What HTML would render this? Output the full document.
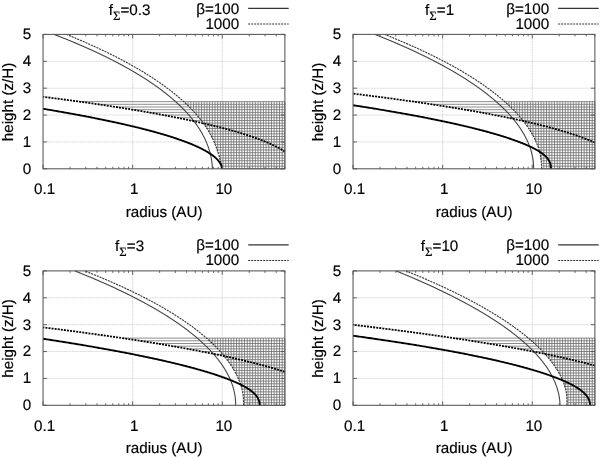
<!DOCTYPE html><html><head><meta charset="utf-8"><title>MRI active zones</title><style>
html,body{margin:0;padding:0;background:#fff}
svg{display:block}
text{font-family:"Liberation Sans",sans-serif;font-size:15.2px;fill:#000;stroke:#000;stroke-width:0.18px;text-rendering:geometricPrecision}
.fr{fill:none;stroke:#555;stroke-width:1.05}
.tk{fill:none;stroke:#555;stroke-width:0.9}
.gr{stroke:#a8a8a8;stroke-width:0.55;stroke-dasharray:0.9 0.7}
.hh{fill:none;stroke:#606060;stroke-width:0.72}
.hv{fill:none;stroke:#606060;stroke-width:0.72}
.ts{fill:none;stroke:#444;stroke-width:1.1}
.td{fill:none;stroke:#333;stroke-width:1.1;stroke-dasharray:2.1 0.9}
.ks{fill:none;stroke:#000;stroke-width:1.85}
.kd{fill:none;stroke:#000;stroke-width:1.8;stroke-dasharray:2 1.1}
.lg1{stroke:#333;stroke-width:1.15}
.lg2{stroke:#333;stroke-width:1.0;stroke-dasharray:2.0 1.0}
</style></head><body>
<svg width="600" height="457" viewBox="0 0 600 457">
<defs><filter id="nf" x="0" y="0" width="600" height="457" filterUnits="userSpaceOnUse"><feOffset dx="0" dy="0"/></filter></defs>
<g filter="url(#nf)">
<g>
<line x1="43.05" x2="284.88" y1="141.93" y2="141.93" class="gr"/>
<line x1="43.05" x2="284.88" y1="115.06" y2="115.06" class="gr"/>
<line x1="43.05" x2="284.88" y1="88.19" y2="88.19" class="gr"/>
<line x1="43.05" x2="284.88" y1="61.32" y2="61.32" class="gr"/>
<line x1="132.65" x2="132.65" y1="34.40" y2="168.80" class="gr"/>
<line x1="222.25" x2="222.25" y1="34.40" y2="168.80" class="gr"/>
<path d="M221.60 168.80 H284.88 M221.45 166.11 H284.88 M221.04 163.43 H284.88 M220.42 160.74 H284.88 M219.68 158.05 H284.88 M218.87 155.37 H284.88 M218.02 152.68 H284.88 M217.14 149.99 H284.88 M216.21 147.30 H284.88 M215.20 144.62 H284.88 M214.10 141.93 H284.88 M212.90 139.24 H284.88 M211.58 136.56 H284.88 M210.16 133.87 H284.88 M208.61 131.18 H284.88 M206.95 128.50 H284.88 M205.17 125.81 H284.88 M202.54 123.12 H284.88 M190.33 120.43 H284.88 M177.27 117.75 H284.88 M163.33 115.06 H284.88 M148.48 112.37 H284.88 M132.70 109.69 H284.88 M115.94 107.00 H284.88 M98.19 104.31 H284.88 M79.40 101.63 H284.88" class="hh"/>
<path d="M284.88 168.80 V101.63 M282.19 168.80 V101.63 M279.50 168.80 V101.63 M276.81 168.80 V101.63 M274.13 168.80 V101.63 M271.44 168.80 V101.63 M268.75 168.80 V101.63 M266.06 168.80 V101.63 M263.37 168.80 V101.63 M260.69 168.80 V101.63 M258.00 168.80 V101.63 M255.31 168.80 V101.63 M252.62 168.80 V101.63 M249.93 168.80 V101.63 M247.25 168.80 V101.63 M244.56 168.80 V101.63 M241.87 168.80 V101.63 M239.18 168.80 V101.63 M236.49 168.80 V101.63 M233.81 168.80 V101.63 M231.12 168.80 V101.63 M228.43 168.80 V101.63 M225.74 168.80 V101.63 M223.05 168.80 V101.63 M220.37 160.53 V101.63 M217.68 151.61 V101.63 M214.99 144.08 V101.63 M212.30 137.99 V101.63 M209.61 132.90 V101.63 M206.93 128.46 V101.63 M204.24 124.46 V101.63 M201.55 120.82 V101.63 M198.86 117.44 V101.63 M196.17 114.27 V101.63 M193.49 111.30 V101.63 M190.80 108.47 V101.63 M188.11 105.78 V101.63 M185.42 103.21 V101.63" class="hv"/>
<path d="M212.34 168.80 L212.34 168.46 L212.33 168.13 L212.33 167.79 L212.32 167.45 L212.31 167.12 L212.30 166.78 L212.28 166.44 L212.26 166.11 L212.24 165.77 L212.22 165.43 L212.20 165.10 L212.17 164.76 L212.14 164.42 L212.11 164.09 L212.08 163.75 L212.04 163.41 L212.01 163.08 L211.97 162.74 L211.92 162.40 L211.88 162.07 L211.84 161.73 L211.79 161.39 L211.74 161.06 L211.69 160.72 L211.64 160.38 L211.58 160.05 L211.53 159.71 L211.47 159.37 L211.41 159.04 L211.35 158.70 L211.28 158.36 L211.22 158.03 L211.15 157.69 L211.09 157.35 L211.02 157.01 L210.95 156.68 L210.87 156.34 L210.80 156.00 L210.72 155.67 L210.65 155.33 L210.57 154.99 L210.49 154.66 L210.40 154.32 L210.32 153.98 L210.24 153.65 L210.15 153.31 L210.06 152.97 L209.97 152.64 L209.88 152.30 L209.79 151.96 L209.70 151.63 L209.60 151.29 L209.50 150.95 L209.40 150.62 L209.30 150.28 L209.20 149.94 L209.10 149.61 L208.99 149.27 L208.89 148.93 L208.78 148.60 L208.67 148.26 L208.56 147.92 L208.44 147.59 L208.33 147.25 L208.21 146.91 L208.09 146.58 L207.97 146.24 L207.85 145.90 L207.73 145.57 L207.60 145.23 L207.47 144.89 L207.35 144.56 L207.22 144.22 L207.08 143.88 L206.95 143.55 L206.81 143.21 L206.68 142.87 L206.54 142.54 L206.40 142.20 L206.25 141.86 L206.11 141.53 L205.96 141.19 L205.81 140.85 L205.66 140.52 L205.51 140.18 L205.36 139.84 L205.20 139.51 L205.05 139.17 L204.89 138.83 L204.73 138.50 L204.56 138.16 L204.40 137.82 L204.23 137.49 L204.06 137.15 L203.89 136.81 L203.72 136.48 L203.55 136.14 L203.37 135.80 L203.19 135.47 L203.02 135.13 L202.83 134.79 L202.65 134.45 L202.47 134.12 L202.28 133.78 L202.09 133.44 L201.90 133.11 L201.71 132.77 L201.51 132.43 L201.32 132.10 L201.12 131.76 L200.92 131.42 L200.72 131.09 L200.51 130.75 L200.31 130.41 L200.10 130.08 L199.89 129.74 L199.68 129.40 L199.47 129.07 L199.25 128.73 L199.04 128.39 L198.82 128.06 L198.60 127.72 L198.38 127.38 L198.15 127.05 L197.93 126.71 L197.70 126.37 L197.47 126.04 L197.24 125.70 L197.00 125.36 L196.77 125.03 L196.53 124.69 L196.29 124.35 L196.05 124.02 L195.81 123.68 L195.56 123.34 L195.31 123.01 L195.06 122.67 L194.81 122.33 L194.56 122.00 L194.31 121.66 L194.05 121.32 L193.79 120.99 L193.53 120.65 L193.27 120.31 L193.00 119.98 L192.74 119.64 L192.47 119.30 L192.20 118.97 L191.93 118.63 L191.65 118.29 L191.37 117.96 L191.10 117.62 L190.82 117.28 L190.53 116.95 L190.25 116.61 L189.96 116.27 L189.68 115.94 L189.39 115.60 L189.10 115.26 L188.80 114.93 L188.51 114.59 L188.21 114.25 L187.91 113.92 L187.61 113.58 L187.30 113.24 L187.00 112.91 L186.69 112.57 L186.38 112.23 L186.07 111.89 L185.75 111.56 L185.44 111.22 L185.12 110.88 L184.80 110.55 L184.48 110.21 L184.16 109.87 L183.83 109.54 L183.50 109.20 L183.17 108.86 L182.84 108.53 L182.51 108.19 L182.17 107.85 L181.83 107.52 L181.49 107.18 L181.15 106.84 L180.81 106.51 L180.46 106.17 L180.11 105.83 L179.76 105.50 L179.41 105.16 L179.06 104.82 L178.70 104.49 L178.34 104.15 L177.98 103.81 L177.62 103.48 L177.26 103.14 L176.89 102.80 L176.52 102.47 L176.15 102.13 L175.78 101.79 L175.40 101.46 L175.03 101.12 L174.65 100.78 L174.27 100.45 L173.88 100.11 L173.50 99.77 L173.11 99.44 L172.72 99.10 L172.33 98.76 L171.93 98.43 L171.54 98.09 L171.14 97.75 L170.74 97.42 L170.34 97.08 L169.93 96.74 L169.53 96.41 L169.12 96.07 L168.71 95.73 L168.30 95.40 L167.88 95.06 L167.46 94.72 L167.04 94.39 L166.62 94.05 L166.20 93.71 L165.77 93.38 L165.34 93.04 L164.91 92.70 L164.48 92.37 L164.05 92.03 L163.61 91.69 L163.17 91.36 L162.73 91.02 L162.29 90.68 L161.84 90.34 L161.39 90.01 L160.94 89.67 L160.49 89.33 L160.04 89.00 L159.58 88.66 L159.12 88.32 L158.66 87.99 L158.20 87.65 L157.73 87.31 L157.27 86.98 L156.80 86.64 L156.32 86.30 L155.85 85.97 L155.37 85.63 L154.90 85.29 L154.41 84.96 L153.93 84.62 L153.45 84.28 L152.96 83.95 L152.47 83.61 L151.98 83.27 L151.48 82.94 L150.98 82.60 L150.48 82.26 L149.98 81.93 L149.48 81.59 L148.97 81.25 L148.46 80.92 L147.95 80.58 L147.44 80.24 L146.93 79.91 L146.41 79.57 L145.89 79.23 L145.37 78.90 L144.84 78.56 L144.31 78.22 L143.79 77.89 L143.25 77.55 L142.72 77.21 L142.18 76.88 L141.65 76.54 L141.10 76.20 L140.56 75.87 L140.02 75.53 L139.47 75.19 L138.92 74.86 L138.36 74.52 L137.81 74.18 L137.25 73.85 L136.69 73.51 L136.13 73.17 L135.56 72.84 L135.00 72.50 L134.43 72.16 L133.85 71.83 L133.28 71.49 L132.70 71.15 L132.12 70.82 L131.54 70.48 L130.96 70.14 L130.37 69.81 L129.78 69.47 L129.19 69.13 L128.60 68.80 L128.00 68.46 L127.40 68.12 L126.80 67.78 L126.20 67.45 L125.59 67.11 L124.98 66.77 L124.37 66.44 L123.76 66.10 L123.14 65.76 L122.52 65.43 L121.90 65.09 L121.28 64.75 L120.65 64.42 L120.02 64.08 L119.39 63.74 L118.76 63.41 L118.12 63.07 L117.48 62.73 L116.84 62.40 L116.20 62.06 L115.55 61.72 L114.90 61.39 L114.25 61.05 L113.59 60.71 L112.94 60.38 L112.28 60.04 L111.62 59.70 L110.95 59.37 L110.28 59.03 L109.61 58.69 L108.94 58.36 L108.27 58.02 L107.59 57.68 L106.91 57.35 L106.23 57.01 L105.54 56.67 L104.85 56.34 L104.16 56.00 L103.47 55.66 L102.77 55.33 L102.07 54.99 L101.37 54.65 L100.67 54.32 L99.96 53.98 L99.25 53.64 L98.54 53.31 L97.82 52.97 L97.11 52.63 L96.39 52.30 L95.66 51.96 L94.94 51.62 L94.21 51.29 L93.48 50.95 L92.75 50.61 L92.01 50.28 L91.27 49.94 L90.53 49.60 L89.78 49.27 L89.04 48.93 L88.29 48.59 L87.53 48.26 L86.78 47.92 L86.02 47.58 L85.26 47.25 L84.49 46.91 L83.73 46.57 L82.96 46.24 L82.18 45.90 L81.41 45.56 L80.63 45.22 L79.85 44.89 L79.07 44.55 L78.28 44.21 L77.49 43.88 L76.70 43.54 L75.90 43.20 L75.10 42.87 L74.30 42.53 L73.50 42.19 L72.69 41.86 L71.88 41.52 L71.07 41.18 L70.26 40.85 L69.44 40.51 L68.62 40.17 L67.79 39.84 L66.97 39.50 L66.14 39.16 L65.30 38.83 L64.47 38.49 L63.63 38.15 L62.79 37.82 L61.95 37.48 L61.10 37.14 L60.25 36.81 L59.39 36.47 L58.54 36.13 L57.68 35.80 L56.82 35.46 L55.95 35.12 L55.08 34.79 L54.21 34.45" class="ts"/>
<path d="M221.60 168.80 L221.59 168.46 L221.59 168.13 L221.57 167.79 L221.56 167.45 L221.54 167.12 L221.51 166.78 L221.48 166.44 L221.45 166.11 L221.41 165.77 L221.37 165.43 L221.32 165.10 L221.27 164.76 L221.22 164.42 L221.16 164.09 L221.10 163.75 L221.03 163.41 L220.97 163.08 L220.89 162.74 L220.82 162.40 L220.74 162.07 L220.67 161.73 L220.58 161.39 L220.50 161.06 L220.41 160.72 L220.33 160.38 L220.24 160.05 L220.15 159.71 L220.05 159.37 L219.96 159.04 L219.86 158.70 L219.77 158.36 L219.67 158.03 L219.57 157.69 L219.47 157.35 L219.37 157.01 L219.27 156.68 L219.17 156.34 L219.07 156.00 L218.96 155.67 L218.86 155.33 L218.75 154.99 L218.65 154.66 L218.54 154.32 L218.44 153.98 L218.33 153.65 L218.23 153.31 L218.12 152.97 L218.01 152.64 L217.90 152.30 L217.79 151.96 L217.68 151.63 L217.57 151.29 L217.46 150.95 L217.35 150.62 L217.24 150.28 L217.13 149.94 L217.01 149.61 L216.90 149.27 L216.78 148.93 L216.66 148.60 L216.55 148.26 L216.43 147.92 L216.31 147.59 L216.19 147.25 L216.07 146.91 L215.94 146.58 L215.82 146.24 L215.69 145.90 L215.57 145.57 L215.44 145.23 L215.31 144.89 L215.18 144.56 L215.04 144.22 L214.91 143.88 L214.77 143.55 L214.64 143.21 L214.50 142.87 L214.36 142.54 L214.22 142.20 L214.07 141.86 L213.93 141.53 L213.78 141.19 L213.63 140.85 L213.48 140.52 L213.33 140.18 L213.18 139.84 L213.02 139.51 L212.86 139.17 L212.70 138.83 L212.54 138.50 L212.38 138.16 L212.22 137.82 L212.05 137.49 L211.88 137.15 L211.71 136.81 L211.54 136.48 L211.37 136.14 L211.20 135.80 L211.02 135.47 L210.84 135.13 L210.66 134.79 L210.48 134.45 L210.29 134.12 L210.11 133.78 L209.92 133.44 L209.73 133.11 L209.54 132.77 L209.35 132.43 L209.15 132.10 L208.96 131.76 L208.76 131.42 L208.56 131.09 L208.35 130.75 L208.15 130.41 L207.94 130.08 L207.74 129.74 L207.53 129.40 L207.32 129.07 L207.10 128.73 L206.89 128.39 L206.67 128.06 L206.45 127.72 L206.23 127.38 L206.01 127.05 L205.78 126.71 L205.56 126.37 L205.33 126.04 L205.10 125.70 L204.87 125.36 L204.63 125.03 L204.40 124.69 L204.16 124.35 L203.92 124.02 L203.68 123.68 L203.44 123.34 L203.19 123.01 L202.94 122.67 L202.69 122.33 L202.44 122.00 L202.19 121.66 L201.94 121.32 L201.68 120.99 L201.42 120.65 L201.16 120.31 L200.90 119.98 L200.64 119.64 L200.37 119.30 L200.10 118.97 L199.83 118.63 L199.56 118.29 L199.29 117.96 L199.01 117.62 L198.74 117.28 L198.46 116.95 L198.18 116.61 L197.89 116.27 L197.61 115.94 L197.32 115.60 L197.03 115.26 L196.74 114.93 L196.45 114.59 L196.15 114.25 L195.86 113.92 L195.56 113.58 L195.26 113.24 L194.96 112.91 L194.65 112.57 L194.35 112.23 L194.04 111.89 L193.73 111.56 L193.42 111.22 L193.10 110.88 L192.79 110.55 L192.47 110.21 L192.15 109.87 L191.83 109.54 L191.51 109.20 L191.18 108.86 L190.85 108.53 L190.52 108.19 L190.19 107.85 L189.86 107.52 L189.52 107.18 L189.19 106.84 L188.85 106.51 L188.51 106.17 L188.16 105.83 L187.82 105.50 L187.47 105.16 L187.12 104.82 L186.77 104.49 L186.42 104.15 L186.06 103.81 L185.71 103.48 L185.35 103.14 L184.99 102.80 L184.62 102.47 L184.26 102.13 L183.89 101.79 L183.52 101.46 L183.15 101.12 L182.78 100.78 L182.40 100.45 L182.03 100.11 L181.65 99.77 L181.27 99.44 L180.88 99.10 L180.50 98.76 L180.11 98.43 L179.72 98.09 L179.33 97.75 L178.94 97.42 L178.54 97.08 L178.14 96.74 L177.75 96.41 L177.34 96.07 L176.94 95.73 L176.54 95.40 L176.13 95.06 L175.72 94.72 L175.31 94.39 L174.89 94.05 L174.48 93.71 L174.06 93.38 L173.64 93.04 L173.22 92.70 L172.79 92.37 L172.37 92.03 L171.94 91.69 L171.51 91.36 L171.08 91.02 L170.64 90.68 L170.21 90.34 L169.77 90.01 L169.33 89.67 L168.89 89.33 L168.44 89.00 L167.99 88.66 L167.55 88.32 L167.09 87.99 L166.64 87.65 L166.19 87.31 L165.73 86.98 L165.27 86.64 L164.81 86.30 L164.34 85.97 L163.88 85.63 L163.41 85.29 L162.94 84.96 L162.47 84.62 L161.99 84.28 L161.52 83.95 L161.04 83.61 L160.56 83.27 L160.08 82.94 L159.59 82.60 L159.10 82.26 L158.61 81.93 L158.12 81.59 L157.63 81.25 L157.13 80.92 L156.64 80.58 L156.14 80.24 L155.63 79.91 L155.13 79.57 L154.62 79.23 L154.11 78.90 L153.60 78.56 L153.09 78.22 L152.57 77.89 L152.06 77.55 L151.54 77.21 L151.01 76.88 L150.49 76.54 L149.96 76.20 L149.44 75.87 L148.90 75.53 L148.37 75.19 L147.84 74.86 L147.30 74.52 L146.76 74.18 L146.22 73.85 L145.67 73.51 L145.13 73.17 L144.58 72.84 L144.03 72.50 L143.47 72.16 L142.92 71.83 L142.36 71.49 L141.80 71.15 L141.24 70.82 L140.68 70.48 L140.11 70.14 L139.54 69.81 L138.97 69.47 L138.40 69.13 L137.82 68.80 L137.24 68.46 L136.66 68.12 L136.08 67.78 L135.49 67.45 L134.91 67.11 L134.32 66.77 L133.73 66.44 L133.13 66.10 L132.54 65.76 L131.94 65.43 L131.34 65.09 L130.73 64.75 L130.13 64.42 L129.52 64.08 L128.91 63.74 L128.30 63.41 L127.68 63.07 L127.07 62.73 L126.45 62.40 L125.82 62.06 L125.20 61.72 L124.57 61.39 L123.94 61.05 L123.31 60.71 L122.68 60.38 L122.04 60.04 L121.40 59.70 L120.76 59.37 L120.12 59.03 L119.48 58.69 L118.83 58.36 L118.18 58.02 L117.52 57.68 L116.87 57.35 L116.21 57.01 L115.55 56.67 L114.89 56.34 L114.22 56.00 L113.56 55.66 L112.89 55.33 L112.22 54.99 L111.54 54.65 L110.86 54.32 L110.19 53.98 L109.50 53.64 L108.82 53.31 L108.13 52.97 L107.44 52.63 L106.75 52.30 L106.06 51.96 L105.36 51.62 L104.66 51.29 L103.96 50.95 L103.26 50.61 L102.55 50.28 L101.84 49.94 L101.13 49.60 L100.42 49.27 L99.70 48.93 L98.98 48.59 L98.26 48.26 L97.54 47.92 L96.81 47.58 L96.08 47.25 L95.35 46.91 L94.62 46.57 L93.88 46.24 L93.14 45.90 L92.40 45.56 L91.66 45.22 L90.91 44.89 L90.16 44.55 L89.41 44.21 L88.65 43.88 L87.90 43.54 L87.14 43.20 L86.38 42.87 L85.61 42.53 L84.84 42.19 L84.07 41.86 L83.30 41.52 L82.53 41.18 L81.75 40.85 L80.97 40.51 L80.19 40.17 L79.40 39.84 L78.61 39.50 L77.82 39.16 L77.03 38.83 L76.23 38.49 L75.44 38.15 L74.63 37.82 L73.83 37.48 L73.02 37.14 L72.22 36.81 L71.40 36.47 L70.59 36.13 L69.77 35.80 L68.95 35.46 L68.13 35.12 L67.31 34.79 L66.48 34.45" class="td"/>
<path d="M221.78 168.80 L221.77 168.46 L221.76 168.13 L221.73 167.79 L221.68 167.45 L221.63 167.12 L221.56 166.78 L221.49 166.44 L221.40 166.11 L221.30 165.77 L221.18 165.43 L221.06 165.10 L220.92 164.76 L220.77 164.42 L220.61 164.09 L220.44 163.75 L220.26 163.41 L220.06 163.08 L219.86 162.74 L219.64 162.40 L219.41 162.07 L219.17 161.73 L218.92 161.39 L218.66 161.06 L218.38 160.72 L218.10 160.38 L217.80 160.05 L217.50 159.71 L217.18 159.37 L216.85 159.04 L216.51 158.70 L216.16 158.36 L215.79 158.03 L215.42 157.69 L215.04 157.35 L214.64 157.01 L214.24 156.68 L213.82 156.34 L213.39 156.00 L212.96 155.67 L212.51 155.33 L212.05 154.99 L211.58 154.66 L211.10 154.32 L210.61 153.98 L210.10 153.65 L209.59 153.31 L209.07 152.97 L208.53 152.64 L207.99 152.30 L207.43 151.96 L206.87 151.63 L206.29 151.29 L205.70 150.95 L205.10 150.62 L204.49 150.28 L203.87 149.94 L203.24 149.61 L202.60 149.27 L201.94 148.93 L201.28 148.60 L200.60 148.26 L199.92 147.92 L199.22 147.59 L198.51 147.25 L197.79 146.91 L197.06 146.58 L196.32 146.24 L195.57 145.90 L194.81 145.57 L194.03 145.23 L193.25 144.89 L192.45 144.56 L191.64 144.22 L190.82 143.88 L189.99 143.55 L189.15 143.21 L188.30 142.87 L187.44 142.54 L186.56 142.20 L185.68 141.86 L184.78 141.53 L183.87 141.19 L182.95 140.85 L182.02 140.52 L181.08 140.18 L180.13 139.84 L179.17 139.51 L178.19 139.17 L177.20 138.83 L176.21 138.50 L175.20 138.16 L174.18 137.82 L173.15 137.49 L172.10 137.15 L171.05 136.81 L169.98 136.48 L168.91 136.14 L167.82 135.80 L166.72 135.47 L165.61 135.13 L164.49 134.79 L163.36 134.45 L162.21 134.12 L161.06 133.78 L159.89 133.44 L158.71 133.11 L157.52 132.77 L156.32 132.43 L155.11 132.10 L153.88 131.76 L152.65 131.42 L151.40 131.09 L150.14 130.75 L148.87 130.41 L147.59 130.08 L146.30 129.74 L145.00 129.40 L143.68 129.07 L142.36 128.73 L141.02 128.39 L139.67 128.06 L138.31 127.72 L136.94 127.38 L135.55 127.05 L134.16 126.71 L132.75 126.37 L131.33 126.04 L129.91 125.70 L128.46 125.36 L127.01 125.03 L125.55 124.69 L124.07 124.35 L122.59 124.02 L121.09 123.68 L119.58 123.34 L118.06 123.01 L116.53 122.67 L114.98 122.33 L113.43 122.00 L111.86 121.66 L110.28 121.32 L108.69 120.99 L107.09 120.65 L105.47 120.31 L103.85 119.98 L102.21 119.64 L100.56 119.30 L98.90 118.97 L97.23 118.63 L95.55 118.29 L93.85 117.96 L92.15 117.62 L90.43 117.28 L88.70 116.95 L86.96 116.61 L85.21 116.27 L83.44 115.94 L81.67 115.60 L79.88 115.26 L78.08 114.93 L76.27 114.59 L74.45 114.25 L72.61 113.92 L70.77 113.58 L68.91 113.24 L67.04 112.91 L65.16 112.57 L63.26 112.23 L61.36 111.89 L59.44 111.56 L57.51 111.22 L55.57 110.88 L53.62 110.55 L51.66 110.21 L49.68 109.87 L47.70 109.54 L45.70 109.20 L43.69 108.86 L43.05 108.76" class="ks"/>
<path d="M284.88 151.59 L284.42 151.29 L283.90 150.95 L283.37 150.62 L282.82 150.28 L282.27 149.94 L281.70 149.61 L281.13 149.27 L280.54 148.93 L279.94 148.60 L279.34 148.26 L278.72 147.92 L278.09 147.59 L277.45 147.25 L276.80 146.91 L276.14 146.58 L275.47 146.24 L274.79 145.90 L274.10 145.57 L273.40 145.23 L272.69 144.89 L271.97 144.56 L271.23 144.22 L270.49 143.88 L269.73 143.55 L268.97 143.21 L268.19 142.87 L267.40 142.54 L266.60 142.20 L265.79 141.86 L264.97 141.53 L264.14 141.19 L263.30 140.85 L262.44 140.52 L261.58 140.18 L260.70 139.84 L259.82 139.51 L258.92 139.17 L258.01 138.83 L257.09 138.50 L256.16 138.16 L255.21 137.82 L254.26 137.49 L253.29 137.15 L252.32 136.81 L251.33 136.48 L250.33 136.14 L249.32 135.80 L248.30 135.47 L247.26 135.13 L246.22 134.79 L245.16 134.45 L244.09 134.12 L243.01 133.78 L241.92 133.44 L240.81 133.11 L239.70 132.77 L238.57 132.43 L237.43 132.10 L236.28 131.76 L235.11 131.42 L233.94 131.09 L232.75 130.75 L231.55 130.41 L230.34 130.08 L229.12 129.74 L227.88 129.40 L226.63 129.07 L225.37 128.73 L224.10 128.39 L222.82 128.06 L221.52 127.72 L220.21 127.38 L218.89 127.05 L217.55 126.71 L216.21 126.37 L214.85 126.04 L213.47 125.70 L212.09 125.36 L210.69 125.03 L209.28 124.69 L207.86 124.35 L206.42 124.02 L204.97 123.68 L203.51 123.34 L202.04 123.01 L200.55 122.67 L199.05 122.33 L197.53 122.00 L196.01 121.66 L194.46 121.32 L192.91 120.99 L191.34 120.65 L189.76 120.31 L188.17 119.98 L186.56 119.64 L184.94 119.30 L183.31 118.97 L181.66 118.63 L180.00 118.29 L178.32 117.96 L176.63 117.62 L174.93 117.28 L173.21 116.95 L171.48 116.61 L169.73 116.27 L167.97 115.94 L166.20 115.60 L164.41 115.26 L162.61 114.93 L160.79 114.59 L158.96 114.25 L157.12 113.92 L155.26 113.58 L153.39 113.24 L151.50 112.91 L149.59 112.57 L147.68 112.23 L145.74 111.89 L143.80 111.56 L141.83 111.22 L139.86 110.88 L137.87 110.55 L135.86 110.21 L133.84 109.87 L131.80 109.54 L129.75 109.20 L127.68 108.86 L125.60 108.53 L123.50 108.19 L121.38 107.85 L119.25 107.52 L117.11 107.18 L114.95 106.84 L112.77 106.51 L110.58 106.17 L108.37 105.83 L106.15 105.50 L103.91 105.16 L101.65 104.82 L99.38 104.49 L97.09 104.15 L94.79 103.81 L92.46 103.48 L90.13 103.14 L87.77 102.80 L85.40 102.47 L83.02 102.13 L80.61 101.79 L78.19 101.46 L75.76 101.12 L73.30 100.78 L70.83 100.45 L68.34 100.11 L65.84 99.77 L63.32 99.44 L60.78 99.10 L58.22 98.76 L55.65 98.43 L53.05 98.09 L50.45 97.75 L47.82 97.42 L45.17 97.08 L43.05 96.81" class="kd"/>
<rect x="43.05" y="34.40" width="241.83" height="134.40" class="fr"/>
<path d="M43.05 168.80 h4.00 M284.88 168.80 h-4.00 M43.05 141.93 h4.00 M284.88 141.93 h-4.00 M43.05 115.06 h4.00 M284.88 115.06 h-4.00 M43.05 88.19 h4.00 M284.88 88.19 h-4.00 M43.05 61.32 h4.00 M284.88 61.32 h-4.00 M43.05 34.45 h4.00 M284.88 34.45 h-4.00 M43.05 168.80 v-4.00 M43.05 34.40 v4.00 M70.02 168.80 v-2.00 M70.02 34.40 v2.00 M85.80 168.80 v-2.00 M85.80 34.40 v2.00 M96.99 168.80 v-2.00 M96.99 34.40 v2.00 M105.68 168.80 v-2.00 M105.68 34.40 v2.00 M112.77 168.80 v-2.00 M112.77 34.40 v2.00 M118.77 168.80 v-2.00 M118.77 34.40 v2.00 M123.97 168.80 v-2.00 M123.97 34.40 v2.00 M128.55 168.80 v-2.00 M128.55 34.40 v2.00 M132.65 168.80 v-4.00 M132.65 34.40 v4.00 M159.62 168.80 v-2.00 M159.62 34.40 v2.00 M175.40 168.80 v-2.00 M175.40 34.40 v2.00 M186.59 168.80 v-2.00 M186.59 34.40 v2.00 M195.28 168.80 v-2.00 M195.28 34.40 v2.00 M202.37 168.80 v-2.00 M202.37 34.40 v2.00 M208.37 168.80 v-2.00 M208.37 34.40 v2.00 M213.57 168.80 v-2.00 M213.57 34.40 v2.00 M218.15 168.80 v-2.00 M218.15 34.40 v2.00 M222.25 168.80 v-4.00 M222.25 34.40 v4.00 M249.22 168.80 v-2.00 M249.22 34.40 v2.00 M265.00 168.80 v-2.00 M265.00 34.40 v2.00 M276.19 168.80 v-2.00 M276.19 34.40 v2.00 M284.88 168.80 v-2.00 M284.88 34.40 v2.00" class="tk"/>
<text x="31.30" y="173.70" text-anchor="end">0</text>
<text x="31.30" y="146.83" text-anchor="end">1</text>
<text x="31.30" y="119.96" text-anchor="end">2</text>
<text x="31.30" y="93.09" text-anchor="end">3</text>
<text x="31.30" y="66.22" text-anchor="end">4</text>
<text x="31.30" y="39.35" text-anchor="end">5</text>
<text x="44.65" y="194.00" text-anchor="middle">0.1</text>
<text x="134.25" y="194.00" text-anchor="middle">1</text>
<text x="223.85" y="194.00" text-anchor="middle">10</text>
<text x="164.10" y="216.70" text-anchor="middle">radius (AU)</text>
<text transform="translate(13.40,101.95) rotate(-90)" text-anchor="middle">height (z/H)</text>
<text x="129.60" y="14.80" text-anchor="middle">f<tspan dy="4.7" font-size="12.8" font-family="Liberation Serif,serif">Σ</tspan><tspan dy="-4.7">=0.3</tspan></text>
<text x="239.20" y="13.60" text-anchor="end">β=100</text>
<text x="239.20" y="28.60" text-anchor="end">1000</text>
<line x1="248.20" x2="288.70" y1="8.30" y2="8.30" class="lg1"/>
<line x1="248.20" x2="288.70" y1="24.00" y2="24.00" class="lg2"/>
</g>
<g>
<line x1="353.05" x2="594.88" y1="141.93" y2="141.93" class="gr"/>
<line x1="353.05" x2="594.88" y1="115.06" y2="115.06" class="gr"/>
<line x1="353.05" x2="594.88" y1="88.19" y2="88.19" class="gr"/>
<line x1="353.05" x2="594.88" y1="61.32" y2="61.32" class="gr"/>
<line x1="442.65" x2="442.65" y1="34.40" y2="168.80" class="gr"/>
<line x1="532.25" x2="532.25" y1="34.40" y2="168.80" class="gr"/>
<path d="M541.56 168.80 H594.88 M541.52 166.11 H594.88 M541.40 163.43 H594.88 M541.17 160.74 H594.88 M540.84 158.05 H594.88 M540.38 155.37 H594.88 M539.78 152.68 H594.88 M539.05 149.99 H594.88 M538.19 147.30 H594.88 M537.20 144.62 H594.88 M536.09 141.93 H594.88 M534.85 139.24 H594.88 M533.50 136.56 H594.88 M532.03 133.87 H594.88 M530.43 131.18 H594.88 M528.72 128.50 H594.88 M526.88 125.81 H594.88 M524.92 123.12 H594.88 M520.73 120.43 H594.88 M508.15 117.75 H594.88 M494.70 115.06 H594.88 M480.36 112.37 H594.88 M465.09 109.69 H594.88 M448.88 107.00 H594.88 M431.67 104.31 H594.88 M413.45 101.63 H594.88" class="hh"/>
<path d="M594.88 168.80 V101.63 M592.19 168.80 V101.63 M589.50 168.80 V101.63 M586.81 168.80 V101.63 M584.13 168.80 V101.63 M581.44 168.80 V101.63 M578.75 168.80 V101.63 M576.06 168.80 V101.63 M573.37 168.80 V101.63 M570.69 168.80 V101.63 M568.00 168.80 V101.63 M565.31 168.80 V101.63 M562.62 168.80 V101.63 M559.93 168.80 V101.63 M557.25 168.80 V101.63 M554.56 168.80 V101.63 M551.87 168.80 V101.63 M549.18 168.80 V101.63 M546.49 168.80 V101.63 M543.81 168.80 V101.63 M541.12 160.22 V101.63 M538.43 148.02 V101.63 M535.74 141.15 V101.63 M533.05 135.72 V101.63 M530.37 131.08 V101.63 M527.68 126.95 V101.63 M524.99 123.22 V101.63 M522.30 119.77 V101.63 M519.61 116.56 V101.63 M516.93 113.54 V101.63 M514.24 110.69 V101.63 M511.55 107.98 V101.63 M508.86 105.39 V101.63 M506.17 102.91 V101.63" class="hv"/>
<path d="M533.61 168.80 L533.60 168.46 L533.60 168.13 L533.60 167.79 L533.59 167.45 L533.58 167.12 L533.58 166.78 L533.57 166.44 L533.55 166.11 L533.54 165.77 L533.52 165.43 L533.51 165.10 L533.49 164.76 L533.47 164.42 L533.44 164.09 L533.42 163.75 L533.39 163.41 L533.37 163.08 L533.34 162.74 L533.31 162.40 L533.27 162.07 L533.24 161.73 L533.20 161.39 L533.16 161.06 L533.12 160.72 L533.08 160.38 L533.04 160.05 L532.99 159.71 L532.94 159.37 L532.89 159.04 L532.84 158.70 L532.79 158.36 L532.73 158.03 L532.68 157.69 L532.62 157.35 L532.56 157.01 L532.49 156.68 L532.43 156.34 L532.36 156.00 L532.29 155.67 L532.22 155.33 L532.15 154.99 L532.07 154.66 L532.00 154.32 L531.92 153.98 L531.84 153.65 L531.76 153.31 L531.67 152.97 L531.59 152.64 L531.50 152.30 L531.41 151.96 L531.31 151.63 L531.22 151.29 L531.12 150.95 L531.03 150.62 L530.93 150.28 L530.82 149.94 L530.72 149.61 L530.61 149.27 L530.51 148.93 L530.40 148.60 L530.28 148.26 L530.17 147.92 L530.05 147.59 L529.94 147.25 L529.82 146.91 L529.70 146.58 L529.57 146.24 L529.45 145.90 L529.32 145.57 L529.19 145.23 L529.06 144.89 L528.93 144.56 L528.79 144.22 L528.66 143.88 L528.52 143.55 L528.38 143.21 L528.24 142.87 L528.09 142.54 L527.95 142.20 L527.80 141.86 L527.65 141.53 L527.50 141.19 L527.34 140.85 L527.19 140.52 L527.03 140.18 L526.87 139.84 L526.71 139.51 L526.54 139.17 L526.38 138.83 L526.21 138.50 L526.04 138.16 L525.87 137.82 L525.70 137.49 L525.53 137.15 L525.35 136.81 L525.17 136.48 L524.99 136.14 L524.81 135.80 L524.62 135.47 L524.44 135.13 L524.25 134.79 L524.06 134.45 L523.87 134.12 L523.67 133.78 L523.48 133.44 L523.28 133.11 L523.08 132.77 L522.88 132.43 L522.68 132.10 L522.47 131.76 L522.27 131.42 L522.06 131.09 L521.85 130.75 L521.63 130.41 L521.42 130.08 L521.20 129.74 L520.98 129.40 L520.76 129.07 L520.54 128.73 L520.31 128.39 L520.09 128.06 L519.86 127.72 L519.63 127.38 L519.40 127.05 L519.16 126.71 L518.93 126.37 L518.69 126.04 L518.45 125.70 L518.21 125.36 L517.96 125.03 L517.72 124.69 L517.47 124.35 L517.22 124.02 L516.97 123.68 L516.72 123.34 L516.46 123.01 L516.20 122.67 L515.95 122.33 L515.68 122.00 L515.42 121.66 L515.16 121.32 L514.89 120.99 L514.62 120.65 L514.35 120.31 L514.08 119.98 L513.80 119.64 L513.52 119.30 L513.24 118.97 L512.96 118.63 L512.68 118.29 L512.40 117.96 L512.11 117.62 L511.82 117.28 L511.53 116.95 L511.24 116.61 L510.94 116.27 L510.65 115.94 L510.35 115.60 L510.05 115.26 L509.74 114.93 L509.44 114.59 L509.13 114.25 L508.82 113.92 L508.51 113.58 L508.20 113.24 L507.89 112.91 L507.57 112.57 L507.25 112.23 L506.93 111.89 L506.61 111.56 L506.28 111.22 L505.96 110.88 L505.63 110.55 L505.30 110.21 L504.96 109.87 L504.63 109.54 L504.29 109.20 L503.95 108.86 L503.61 108.53 L503.27 108.19 L502.93 107.85 L502.58 107.52 L502.23 107.18 L501.88 106.84 L501.53 106.51 L501.17 106.17 L500.82 105.83 L500.46 105.50 L500.10 105.16 L499.73 104.82 L499.37 104.49 L499.00 104.15 L498.63 103.81 L498.26 103.48 L497.89 103.14 L497.51 102.80 L497.13 102.47 L496.75 102.13 L496.37 101.79 L495.99 101.46 L495.60 101.12 L495.22 100.78 L494.83 100.45 L494.43 100.11 L494.04 99.77 L493.64 99.44 L493.25 99.10 L492.85 98.76 L492.44 98.43 L492.04 98.09 L491.63 97.75 L491.22 97.42 L490.81 97.08 L490.40 96.74 L489.99 96.41 L489.57 96.07 L489.15 95.73 L488.73 95.40 L488.31 95.06 L487.88 94.72 L487.45 94.39 L487.02 94.05 L486.59 93.71 L486.16 93.38 L485.72 93.04 L485.28 92.70 L484.84 92.37 L484.40 92.03 L483.96 91.69 L483.51 91.36 L483.06 91.02 L482.61 90.68 L482.16 90.34 L481.70 90.01 L481.25 89.67 L480.79 89.33 L480.33 89.00 L479.86 88.66 L479.40 88.32 L478.93 87.99 L478.46 87.65 L477.99 87.31 L477.51 86.98 L477.04 86.64 L476.56 86.30 L476.08 85.97 L475.59 85.63 L475.11 85.29 L474.62 84.96 L474.13 84.62 L473.64 84.28 L473.15 83.95 L472.65 83.61 L472.15 83.27 L471.65 82.94 L471.15 82.60 L470.64 82.26 L470.14 81.93 L469.63 81.59 L469.11 81.25 L468.60 80.92 L468.08 80.58 L467.57 80.24 L467.05 79.91 L466.52 79.57 L466.00 79.23 L465.47 78.90 L464.94 78.56 L464.41 78.22 L463.88 77.89 L463.34 77.55 L462.80 77.21 L462.26 76.88 L461.72 76.54 L461.17 76.20 L460.63 75.87 L460.08 75.53 L459.53 75.19 L458.97 74.86 L458.41 74.52 L457.86 74.18 L457.30 73.85 L456.73 73.51 L456.17 73.17 L455.60 72.84 L455.03 72.50 L454.46 72.16 L453.88 71.83 L453.31 71.49 L452.73 71.15 L452.15 70.82 L451.56 70.48 L450.98 70.14 L450.39 69.81 L449.80 69.47 L449.20 69.13 L448.61 68.80 L448.01 68.46 L447.41 68.12 L446.81 67.78 L446.20 67.45 L445.60 67.11 L444.99 66.77 L444.38 66.44 L443.76 66.10 L443.15 65.76 L442.53 65.43 L441.91 65.09 L441.28 64.75 L440.66 64.42 L440.03 64.08 L439.40 63.74 L438.77 63.41 L438.13 63.07 L437.49 62.73 L436.85 62.40 L436.21 62.06 L435.57 61.72 L434.92 61.39 L434.27 61.05 L433.62 60.71 L432.96 60.38 L432.31 60.04 L431.65 59.70 L430.99 59.37 L430.32 59.03 L429.66 58.69 L428.99 58.36 L428.32 58.02 L427.64 57.68 L426.97 57.35 L426.29 57.01 L425.61 56.67 L424.93 56.34 L424.24 56.00 L423.55 55.66 L422.86 55.33 L422.17 54.99 L421.47 54.65 L420.77 54.32 L420.07 53.98 L419.37 53.64 L418.67 53.31 L417.96 52.97 L417.25 52.63 L416.53 52.30 L415.82 51.96 L415.10 51.62 L414.38 51.29 L413.66 50.95 L412.93 50.61 L412.20 50.28 L411.47 49.94 L410.74 49.60 L410.01 49.27 L409.27 48.93 L408.53 48.59 L407.78 48.26 L407.04 47.92 L406.29 47.58 L405.54 47.25 L404.79 46.91 L404.03 46.57 L403.27 46.24 L402.51 45.90 L401.75 45.56 L400.98 45.22 L400.22 44.89 L399.44 44.55 L398.67 44.21 L397.90 43.88 L397.12 43.54 L396.34 43.20 L395.55 42.87 L394.76 42.53 L393.98 42.19 L393.18 41.86 L392.39 41.52 L391.59 41.18 L390.79 40.85 L389.99 40.51 L389.19 40.17 L388.38 39.84 L387.57 39.50 L386.76 39.16 L385.94 38.83 L385.12 38.49 L384.30 38.15 L383.48 37.82 L382.65 37.48 L381.83 37.14 L380.99 36.81 L380.16 36.47 L379.32 36.13 L378.48 35.80 L377.64 35.46 L376.80 35.12 L375.95 34.79 L375.10 34.45" class="ts"/>
<path d="M541.56 168.80 L541.56 168.46 L541.56 168.13 L541.55 167.79 L541.55 167.45 L541.54 167.12 L541.54 166.78 L541.53 166.44 L541.52 166.11 L541.51 165.77 L541.50 165.43 L541.48 165.10 L541.47 164.76 L541.45 164.42 L541.43 164.09 L541.41 163.75 L541.39 163.41 L541.37 163.08 L541.35 162.74 L541.32 162.40 L541.30 162.07 L541.27 161.73 L541.24 161.39 L541.21 161.06 L541.17 160.72 L541.14 160.38 L541.10 160.05 L541.06 159.71 L541.02 159.37 L540.98 159.04 L540.93 158.70 L540.88 158.36 L540.83 158.03 L540.78 157.69 L540.73 157.35 L540.68 157.01 L540.62 156.68 L540.56 156.34 L540.50 156.00 L540.43 155.67 L540.37 155.33 L540.30 154.99 L540.23 154.66 L540.16 154.32 L540.09 153.98 L540.01 153.65 L539.93 153.31 L539.85 152.97 L539.77 152.64 L539.68 152.30 L539.60 151.96 L539.51 151.63 L539.42 151.29 L539.33 150.95 L539.23 150.62 L539.13 150.28 L539.03 149.94 L538.93 149.61 L538.83 149.27 L538.73 148.93 L538.62 148.60 L538.51 148.26 L538.40 147.92 L538.28 147.59 L538.17 147.25 L538.05 146.91 L537.93 146.58 L537.81 146.24 L537.69 145.90 L537.56 145.57 L537.44 145.23 L537.31 144.89 L537.18 144.56 L537.04 144.22 L536.91 143.88 L536.77 143.55 L536.63 143.21 L536.49 142.87 L536.35 142.54 L536.20 142.20 L536.06 141.86 L535.91 141.53 L535.76 141.19 L535.61 140.85 L535.45 140.52 L535.30 140.18 L535.14 139.84 L534.98 139.51 L534.82 139.17 L534.65 138.83 L534.49 138.50 L534.32 138.16 L534.15 137.82 L533.98 137.49 L533.81 137.15 L533.63 136.81 L533.46 136.48 L533.28 136.14 L533.10 135.80 L532.92 135.47 L532.73 135.13 L532.55 134.79 L532.36 134.45 L532.17 134.12 L531.98 133.78 L531.78 133.44 L531.59 133.11 L531.39 132.77 L531.19 132.43 L530.99 132.10 L530.79 131.76 L530.58 131.42 L530.37 131.09 L530.16 130.75 L529.95 130.41 L529.74 130.08 L529.53 129.74 L529.31 129.40 L529.09 129.07 L528.87 128.73 L528.65 128.39 L528.42 128.06 L528.20 127.72 L527.97 127.38 L527.74 127.05 L527.51 126.71 L527.28 126.37 L527.04 126.04 L526.80 125.70 L526.56 125.36 L526.32 125.03 L526.08 124.69 L525.83 124.35 L525.59 124.02 L525.34 123.68 L525.09 123.34 L524.83 123.01 L524.58 122.67 L524.32 122.33 L524.06 122.00 L523.80 121.66 L523.54 121.32 L523.27 120.99 L523.01 120.65 L522.74 120.31 L522.47 119.98 L522.20 119.64 L521.92 119.30 L521.65 118.97 L521.37 118.63 L521.09 118.29 L520.81 117.96 L520.52 117.62 L520.23 117.28 L519.95 116.95 L519.66 116.61 L519.37 116.27 L519.07 115.94 L518.78 115.60 L518.48 115.26 L518.18 114.93 L517.88 114.59 L517.57 114.25 L517.27 113.92 L516.96 113.58 L516.65 113.24 L516.34 112.91 L516.02 112.57 L515.71 112.23 L515.39 111.89 L515.07 111.56 L514.75 111.22 L514.43 110.88 L514.10 110.55 L513.77 110.21 L513.44 109.87 L513.11 109.54 L512.78 109.20 L512.44 108.86 L512.11 108.53 L511.77 108.19 L511.42 107.85 L511.08 107.52 L510.74 107.18 L510.39 106.84 L510.04 106.51 L509.69 106.17 L509.33 105.83 L508.98 105.50 L508.62 105.16 L508.26 104.82 L507.90 104.49 L507.53 104.15 L507.17 103.81 L506.80 103.48 L506.43 103.14 L506.06 102.80 L505.69 102.47 L505.31 102.13 L504.93 101.79 L504.55 101.46 L504.17 101.12 L503.78 100.78 L503.40 100.45 L503.01 100.11 L502.62 99.77 L502.23 99.44 L501.83 99.10 L501.44 98.76 L501.04 98.43 L500.64 98.09 L500.23 97.75 L499.83 97.42 L499.42 97.08 L499.01 96.74 L498.60 96.41 L498.19 96.07 L497.78 95.73 L497.36 95.40 L496.94 95.06 L496.52 94.72 L496.09 94.39 L495.67 94.05 L495.24 93.71 L494.81 93.38 L494.38 93.04 L493.94 92.70 L493.51 92.37 L493.07 92.03 L492.63 91.69 L492.19 91.36 L491.74 91.02 L491.30 90.68 L490.85 90.34 L490.40 90.01 L489.94 89.67 L489.49 89.33 L489.03 89.00 L488.57 88.66 L488.11 88.32 L487.65 87.99 L487.18 87.65 L486.71 87.31 L486.24 86.98 L485.77 86.64 L485.30 86.30 L484.82 85.97 L484.34 85.63 L483.86 85.29 L483.38 84.96 L482.89 84.62 L482.40 84.28 L481.91 83.95 L481.42 83.61 L480.93 83.27 L480.43 82.94 L479.93 82.60 L479.43 82.26 L478.93 81.93 L478.43 81.59 L477.92 81.25 L477.41 80.92 L476.90 80.58 L476.38 80.24 L475.87 79.91 L475.35 79.57 L474.83 79.23 L474.31 78.90 L473.78 78.56 L473.26 78.22 L472.73 77.89 L472.20 77.55 L471.66 77.21 L471.13 76.88 L470.59 76.54 L470.05 76.20 L469.51 75.87 L468.96 75.53 L468.41 75.19 L467.86 74.86 L467.31 74.52 L466.76 74.18 L466.20 73.85 L465.65 73.51 L465.08 73.17 L464.52 72.84 L463.96 72.50 L463.39 72.16 L462.82 71.83 L462.25 71.49 L461.67 71.15 L461.10 70.82 L460.52 70.48 L459.94 70.14 L459.35 69.81 L458.77 69.47 L458.18 69.13 L457.59 68.80 L457.00 68.46 L456.40 68.12 L455.81 67.78 L455.21 67.45 L454.61 67.11 L454.00 66.77 L453.40 66.44 L452.79 66.10 L452.18 65.76 L451.56 65.43 L450.95 65.09 L450.33 64.75 L449.71 64.42 L449.09 64.08 L448.46 63.74 L447.83 63.41 L447.20 63.07 L446.57 62.73 L445.94 62.40 L445.30 62.06 L444.66 61.72 L444.02 61.39 L443.38 61.05 L442.73 60.71 L442.08 60.38 L441.43 60.04 L440.78 59.70 L440.12 59.37 L439.46 59.03 L438.80 58.69 L438.14 58.36 L437.47 58.02 L436.80 57.68 L436.13 57.35 L435.46 57.01 L434.79 56.67 L434.11 56.34 L433.43 56.00 L432.75 55.66 L432.06 55.33 L431.37 54.99 L430.68 54.65 L429.99 54.32 L429.30 53.98 L428.60 53.64 L427.90 53.31 L427.20 52.97 L426.49 52.63 L425.79 52.30 L425.08 51.96 L424.36 51.62 L423.65 51.29 L422.93 50.95 L422.21 50.61 L421.49 50.28 L420.77 49.94 L420.04 49.60 L419.31 49.27 L418.58 48.93 L417.85 48.59 L417.11 48.26 L416.37 47.92 L415.63 47.58 L414.88 47.25 L414.14 46.91 L413.39 46.57 L412.63 46.24 L411.88 45.90 L411.12 45.56 L410.36 45.22 L409.60 44.89 L408.84 44.55 L408.07 44.21 L407.30 43.88 L406.53 43.54 L405.75 43.20 L404.97 42.87 L404.19 42.53 L403.41 42.19 L402.62 41.86 L401.84 41.52 L401.05 41.18 L400.25 40.85 L399.46 40.51 L398.66 40.17 L397.86 39.84 L397.05 39.50 L396.25 39.16 L395.44 38.83 L394.63 38.49 L393.81 38.15 L393.00 37.82 L392.18 37.48 L391.36 37.14 L390.53 36.81 L389.70 36.47 L388.87 36.13 L388.04 35.80 L387.21 35.46 L386.37 35.12 L385.53 34.79 L384.68 34.45" class="td"/>
<path d="M550.97 168.80 L550.96 168.46 L550.95 168.13 L550.94 167.79 L550.92 167.45 L550.89 167.12 L550.86 166.78 L550.82 166.44 L550.78 166.11 L550.72 165.77 L550.67 165.43 L550.60 165.10 L550.53 164.76 L550.45 164.42 L550.36 164.09 L550.26 163.75 L550.16 163.41 L550.05 163.08 L549.93 162.74 L549.80 162.40 L549.66 162.07 L549.51 161.73 L549.35 161.39 L549.18 161.06 L549.00 160.72 L548.81 160.38 L548.61 160.05 L548.40 159.71 L548.17 159.37 L547.94 159.04 L547.69 158.70 L547.43 158.36 L547.16 158.03 L546.87 157.69 L546.58 157.35 L546.27 157.01 L545.94 156.68 L545.61 156.34 L545.26 156.00 L544.90 155.67 L544.52 155.33 L544.13 154.99 L543.73 154.66 L543.31 154.32 L542.88 153.98 L542.44 153.65 L541.99 153.31 L541.52 152.97 L541.03 152.64 L540.54 152.30 L540.03 151.96 L539.51 151.63 L538.97 151.29 L538.42 150.95 L537.86 150.62 L537.28 150.28 L536.70 149.94 L536.09 149.61 L535.48 149.27 L534.85 148.93 L534.21 148.60 L533.56 148.26 L532.90 147.92 L532.22 147.59 L531.53 147.25 L530.83 146.91 L530.12 146.58 L529.39 146.24 L528.65 145.90 L527.90 145.57 L527.14 145.23 L526.36 144.89 L525.58 144.56 L524.78 144.22 L523.97 143.88 L523.15 143.55 L522.31 143.21 L521.47 142.87 L520.61 142.54 L519.74 142.20 L518.86 141.86 L517.97 141.53 L517.06 141.19 L516.15 140.85 L515.22 140.52 L514.28 140.18 L513.33 139.84 L512.37 139.51 L511.40 139.17 L510.41 138.83 L509.42 138.50 L508.41 138.16 L507.39 137.82 L506.36 137.49 L505.32 137.15 L504.26 136.81 L503.20 136.48 L502.12 136.14 L501.03 135.80 L499.93 135.47 L498.82 135.13 L497.70 134.79 L496.57 134.45 L495.42 134.12 L494.26 133.78 L493.10 133.44 L491.91 133.11 L490.72 132.77 L489.52 132.43 L488.30 132.10 L487.08 131.76 L485.84 131.42 L484.59 131.09 L483.33 130.75 L482.06 130.41 L480.77 130.08 L479.48 129.74 L478.17 129.40 L476.85 129.07 L475.52 128.73 L474.17 128.39 L472.82 128.06 L471.45 127.72 L470.08 127.38 L468.69 127.05 L467.28 126.71 L465.87 126.37 L464.45 126.04 L463.01 125.70 L461.56 125.36 L460.10 125.03 L458.63 124.69 L457.15 124.35 L455.65 124.02 L454.14 123.68 L452.62 123.34 L451.09 123.01 L449.55 122.67 L447.99 122.33 L446.43 122.00 L444.85 121.66 L443.26 121.32 L441.65 120.99 L440.04 120.65 L438.41 120.31 L436.77 119.98 L435.12 119.64 L433.46 119.30 L431.79 118.97 L430.10 118.63 L428.40 118.29 L426.69 117.96 L424.97 117.62 L423.23 117.28 L421.49 116.95 L419.73 116.61 L417.96 116.27 L416.17 115.94 L414.38 115.60 L412.57 115.26 L410.75 114.93 L408.92 114.59 L407.07 114.25 L405.22 113.92 L403.35 113.58 L401.47 113.24 L399.57 112.91 L397.67 112.57 L395.75 112.23 L393.82 111.89 L391.87 111.56 L389.92 111.22 L387.95 110.88 L385.97 110.55 L383.98 110.21 L381.97 109.87 L379.96 109.54 L377.93 109.20 L375.89 108.86 L373.83 108.53 L371.76 108.19 L369.68 107.85 L367.59 107.52 L365.49 107.18 L363.37 106.84 L361.24 106.51 L359.10 106.17 L356.94 105.83 L354.77 105.50 L353.05 105.23" class="ks"/>
<path d="M594.88 142.61 L594.72 142.54 L593.96 142.20 L593.18 141.86 L592.40 141.53 L591.60 141.19 L590.80 140.85 L589.98 140.52 L589.15 140.18 L588.31 139.84 L587.46 139.51 L586.60 139.17 L585.73 138.83 L584.85 138.50 L583.96 138.16 L583.06 137.82 L582.14 137.49 L581.22 137.15 L580.28 136.81 L579.34 136.48 L578.38 136.14 L577.41 135.80 L576.43 135.47 L575.44 135.13 L574.44 134.79 L573.42 134.45 L572.40 134.12 L571.36 133.78 L570.31 133.44 L569.26 133.11 L568.19 132.77 L567.10 132.43 L566.01 132.10 L564.91 131.76 L563.79 131.42 L562.66 131.09 L561.52 130.75 L560.37 130.41 L559.21 130.08 L558.03 129.74 L556.85 129.40 L555.65 129.07 L554.44 128.73 L553.22 128.39 L551.98 128.06 L550.74 127.72 L549.48 127.38 L548.21 127.05 L546.93 126.71 L545.63 126.37 L544.32 126.04 L543.00 125.70 L541.67 125.36 L540.33 125.03 L538.97 124.69 L537.60 124.35 L536.22 124.02 L534.83 123.68 L533.42 123.34 L532.00 123.01 L530.57 122.67 L529.12 122.33 L527.67 122.00 L526.20 121.66 L524.71 121.32 L523.22 120.99 L521.71 120.65 L520.18 120.31 L518.65 119.98 L517.10 119.64 L515.54 119.30 L513.96 118.97 L512.37 118.63 L510.77 118.29 L509.16 117.96 L507.53 117.62 L505.88 117.28 L504.23 116.95 L502.56 116.61 L500.87 116.27 L499.18 115.94 L497.46 115.60 L495.74 115.26 L494.00 114.93 L492.25 114.59 L490.48 114.25 L488.70 113.92 L486.90 113.58 L485.09 113.24 L483.27 112.91 L481.43 112.57 L479.58 112.23 L477.71 111.89 L475.83 111.56 L473.93 111.22 L472.02 110.88 L470.09 110.55 L468.15 110.21 L466.19 109.87 L464.22 109.54 L462.24 109.20 L460.24 108.86 L458.22 108.53 L456.19 108.19 L454.14 107.85 L452.08 107.52 L450.00 107.18 L447.91 106.84 L445.80 106.51 L443.68 106.17 L441.54 105.83 L439.38 105.50 L437.21 105.16 L435.03 104.82 L432.82 104.49 L430.60 104.15 L428.37 103.81 L426.12 103.48 L423.85 103.14 L421.57 102.80 L419.27 102.47 L416.95 102.13 L414.62 101.79 L412.27 101.46 L409.90 101.12 L407.52 100.78 L405.12 100.45 L402.70 100.11 L400.27 99.77 L397.82 99.44 L395.35 99.10 L392.87 98.76 L390.37 98.43 L387.85 98.09 L385.31 97.75 L382.76 97.42 L380.19 97.08 L377.60 96.74 L374.99 96.41 L372.36 96.07 L369.72 95.73 L367.06 95.40 L364.38 95.06 L361.69 94.72 L358.97 94.39 L356.24 94.05 L353.49 93.71 L353.05 93.66" class="kd"/>
<rect x="353.05" y="34.40" width="241.83" height="134.40" class="fr"/>
<path d="M353.05 168.80 h4.00 M594.88 168.80 h-4.00 M353.05 141.93 h4.00 M594.88 141.93 h-4.00 M353.05 115.06 h4.00 M594.88 115.06 h-4.00 M353.05 88.19 h4.00 M594.88 88.19 h-4.00 M353.05 61.32 h4.00 M594.88 61.32 h-4.00 M353.05 34.45 h4.00 M594.88 34.45 h-4.00 M353.05 168.80 v-4.00 M353.05 34.40 v4.00 M380.02 168.80 v-2.00 M380.02 34.40 v2.00 M395.80 168.80 v-2.00 M395.80 34.40 v2.00 M406.99 168.80 v-2.00 M406.99 34.40 v2.00 M415.68 168.80 v-2.00 M415.68 34.40 v2.00 M422.77 168.80 v-2.00 M422.77 34.40 v2.00 M428.77 168.80 v-2.00 M428.77 34.40 v2.00 M433.97 168.80 v-2.00 M433.97 34.40 v2.00 M438.55 168.80 v-2.00 M438.55 34.40 v2.00 M442.65 168.80 v-4.00 M442.65 34.40 v4.00 M469.62 168.80 v-2.00 M469.62 34.40 v2.00 M485.40 168.80 v-2.00 M485.40 34.40 v2.00 M496.59 168.80 v-2.00 M496.59 34.40 v2.00 M505.28 168.80 v-2.00 M505.28 34.40 v2.00 M512.37 168.80 v-2.00 M512.37 34.40 v2.00 M518.37 168.80 v-2.00 M518.37 34.40 v2.00 M523.57 168.80 v-2.00 M523.57 34.40 v2.00 M528.15 168.80 v-2.00 M528.15 34.40 v2.00 M532.25 168.80 v-4.00 M532.25 34.40 v4.00 M559.22 168.80 v-2.00 M559.22 34.40 v2.00 M575.00 168.80 v-2.00 M575.00 34.40 v2.00 M586.19 168.80 v-2.00 M586.19 34.40 v2.00 M594.88 168.80 v-2.00 M594.88 34.40 v2.00" class="tk"/>
<text x="341.30" y="173.70" text-anchor="end">0</text>
<text x="341.30" y="146.83" text-anchor="end">1</text>
<text x="341.30" y="119.96" text-anchor="end">2</text>
<text x="341.30" y="93.09" text-anchor="end">3</text>
<text x="341.30" y="66.22" text-anchor="end">4</text>
<text x="341.30" y="39.35" text-anchor="end">5</text>
<text x="354.65" y="194.00" text-anchor="middle">0.1</text>
<text x="444.25" y="194.00" text-anchor="middle">1</text>
<text x="533.85" y="194.00" text-anchor="middle">10</text>
<text x="474.10" y="216.70" text-anchor="middle">radius (AU)</text>
<text transform="translate(323.40,101.95) rotate(-90)" text-anchor="middle">height (z/H)</text>
<text x="439.60" y="14.80" text-anchor="middle">f<tspan dy="4.7" font-size="12.8" font-family="Liberation Serif,serif">Σ</tspan><tspan dy="-4.7">=1</tspan></text>
<text x="549.20" y="13.60" text-anchor="end">β=100</text>
<text x="549.20" y="28.60" text-anchor="end">1000</text>
<line x1="558.20" x2="598.70" y1="8.30" y2="8.30" class="lg1"/>
<line x1="558.20" x2="598.70" y1="24.00" y2="24.00" class="lg2"/>
</g>
<g>
<line x1="43.05" x2="284.88" y1="378.43" y2="378.43" class="gr"/>
<line x1="43.05" x2="284.88" y1="351.56" y2="351.56" class="gr"/>
<line x1="43.05" x2="284.88" y1="324.69" y2="324.69" class="gr"/>
<line x1="43.05" x2="284.88" y1="297.82" y2="297.82" class="gr"/>
<line x1="132.65" x2="132.65" y1="270.90" y2="405.30" class="gr"/>
<line x1="222.25" x2="222.25" y1="270.90" y2="405.30" class="gr"/>
<path d="M243.55 405.30 H284.88 M243.52 402.61 H284.88 M243.43 399.93 H284.88 M243.26 397.24 H284.88 M242.97 394.55 H284.88 M242.54 391.87 H284.88 M241.97 389.18 H284.88 M241.26 386.49 H284.88 M240.40 383.80 H284.88 M239.40 381.12 H284.88 M238.28 378.43 H284.88 M237.03 375.74 H284.88 M235.66 373.06 H284.88 M234.17 370.37 H284.88 M232.56 367.68 H284.88 M230.82 365.00 H284.88 M228.96 362.31 H284.88 M226.98 359.62 H284.88 M224.87 356.93 H284.88 M215.37 354.25 H284.88 M201.92 351.56 H284.88 M187.68 348.87 H284.88 M172.62 346.19 H284.88 M156.73 343.50 H284.88 M140.01 340.81 H284.88 M122.41 338.12 H284.88" class="hh"/>
<path d="M284.88 405.30 V338.12 M282.19 405.30 V338.12 M279.50 405.30 V338.12 M276.81 405.30 V338.12 M274.13 405.30 V338.12 M271.44 405.30 V338.12 M268.75 405.30 V338.12 M266.06 405.30 V338.12 M263.37 405.30 V338.12 M260.69 405.30 V338.12 M258.00 405.30 V338.12 M255.31 405.30 V338.12 M252.62 405.30 V338.12 M249.93 405.30 V338.12 M247.25 405.30 V338.12 M244.56 405.30 V338.12 M241.87 388.75 V338.12 M239.18 380.56 V338.12 M236.49 374.65 V338.12 M233.81 369.74 V338.12 M231.12 365.44 V338.12 M228.43 361.57 V338.12 M225.74 358.03 V338.12 M223.05 354.74 V338.12 M220.37 351.66 V338.12 M217.68 348.76 V338.12 M214.99 346.01 V338.12 M212.30 343.38 V338.12 M209.61 340.87 V338.12 M206.93 338.46 V338.12" class="hv"/>
<path d="M235.68 405.30 L235.68 404.96 L235.68 404.63 L235.67 404.29 L235.67 403.95 L235.66 403.62 L235.65 403.28 L235.64 402.94 L235.63 402.61 L235.61 402.27 L235.60 401.93 L235.58 401.60 L235.56 401.26 L235.54 400.92 L235.52 400.59 L235.49 400.25 L235.47 399.91 L235.44 399.58 L235.41 399.24 L235.38 398.90 L235.35 398.57 L235.31 398.23 L235.28 397.89 L235.24 397.56 L235.20 397.22 L235.16 396.88 L235.11 396.55 L235.06 396.21 L235.02 395.87 L234.97 395.54 L234.91 395.20 L234.86 394.86 L234.80 394.53 L234.75 394.19 L234.69 393.85 L234.63 393.51 L234.56 393.18 L234.50 392.84 L234.43 392.50 L234.36 392.17 L234.29 391.83 L234.21 391.49 L234.13 391.16 L234.06 390.82 L233.98 390.48 L233.89 390.15 L233.81 389.81 L233.72 389.47 L233.63 389.14 L233.54 388.80 L233.45 388.46 L233.36 388.13 L233.26 387.79 L233.16 387.45 L233.06 387.12 L232.96 386.78 L232.85 386.44 L232.75 386.11 L232.64 385.77 L232.53 385.43 L232.41 385.10 L232.30 384.76 L232.18 384.42 L232.06 384.09 L231.94 383.75 L231.82 383.41 L231.69 383.08 L231.57 382.74 L231.44 382.40 L231.31 382.07 L231.18 381.73 L231.04 381.39 L230.90 381.06 L230.76 380.72 L230.62 380.38 L230.48 380.05 L230.34 379.71 L230.19 379.37 L230.04 379.04 L229.89 378.70 L229.74 378.36 L229.58 378.03 L229.43 377.69 L229.27 377.35 L229.11 377.02 L228.95 376.68 L228.78 376.34 L228.62 376.01 L228.45 375.67 L228.28 375.33 L228.11 375.00 L227.93 374.66 L227.76 374.32 L227.58 373.99 L227.40 373.65 L227.22 373.31 L227.03 372.98 L226.85 372.64 L226.66 372.30 L226.47 371.97 L226.28 371.63 L226.09 371.29 L225.89 370.95 L225.69 370.62 L225.50 370.28 L225.29 369.94 L225.09 369.61 L224.89 369.27 L224.68 368.93 L224.47 368.60 L224.26 368.26 L224.05 367.92 L223.83 367.59 L223.61 367.25 L223.39 366.91 L223.17 366.58 L222.95 366.24 L222.73 365.90 L222.50 365.57 L222.27 365.23 L222.04 364.89 L221.81 364.56 L221.57 364.22 L221.34 363.88 L221.10 363.55 L220.86 363.21 L220.61 362.87 L220.37 362.54 L220.12 362.20 L219.88 361.86 L219.62 361.53 L219.37 361.19 L219.12 360.85 L218.86 360.52 L218.60 360.18 L218.34 359.84 L218.08 359.51 L217.82 359.17 L217.55 358.83 L217.28 358.50 L217.01 358.16 L216.74 357.82 L216.46 357.49 L216.19 357.15 L215.91 356.81 L215.63 356.48 L215.35 356.14 L215.06 355.80 L214.78 355.47 L214.49 355.13 L214.20 354.79 L213.91 354.46 L213.61 354.12 L213.32 353.78 L213.02 353.45 L212.72 353.11 L212.41 352.77 L212.11 352.44 L211.80 352.10 L211.50 351.76 L211.18 351.43 L210.87 351.09 L210.56 350.75 L210.24 350.42 L209.92 350.08 L209.60 349.74 L209.28 349.41 L208.96 349.07 L208.63 348.73 L208.30 348.39 L207.97 348.06 L207.64 347.72 L207.30 347.38 L206.97 347.05 L206.63 346.71 L206.29 346.37 L205.94 346.04 L205.60 345.70 L205.25 345.36 L204.90 345.03 L204.55 344.69 L204.20 344.35 L203.84 344.02 L203.49 343.68 L203.13 343.34 L202.77 343.01 L202.40 342.67 L202.04 342.33 L201.67 342.00 L201.30 341.66 L200.93 341.32 L200.55 340.99 L200.18 340.65 L199.80 340.31 L199.42 339.98 L199.04 339.64 L198.66 339.30 L198.27 338.97 L197.88 338.63 L197.49 338.29 L197.10 337.96 L196.70 337.62 L196.31 337.28 L195.91 336.95 L195.51 336.61 L195.11 336.27 L194.70 335.94 L194.29 335.60 L193.89 335.26 L193.47 334.93 L193.06 334.59 L192.65 334.25 L192.23 333.92 L191.81 333.58 L191.39 333.24 L190.96 332.91 L190.54 332.57 L190.11 332.23 L189.68 331.90 L189.25 331.56 L188.81 331.22 L188.38 330.89 L187.94 330.55 L187.50 330.21 L187.06 329.88 L186.61 329.54 L186.17 329.20 L185.72 328.87 L185.26 328.53 L184.81 328.19 L184.36 327.86 L183.90 327.52 L183.44 327.18 L182.98 326.84 L182.51 326.51 L182.05 326.17 L181.58 325.83 L181.11 325.50 L180.64 325.16 L180.16 324.82 L179.68 324.49 L179.21 324.15 L178.72 323.81 L178.24 323.48 L177.76 323.14 L177.27 322.80 L176.78 322.47 L176.29 322.13 L175.79 321.79 L175.30 321.46 L174.80 321.12 L174.30 320.78 L173.79 320.45 L173.29 320.11 L172.78 319.77 L172.27 319.44 L171.76 319.10 L171.25 318.76 L170.73 318.43 L170.21 318.09 L169.69 317.75 L169.17 317.42 L168.65 317.08 L168.12 316.74 L167.59 316.41 L167.06 316.07 L166.53 315.73 L165.99 315.40 L165.45 315.06 L164.91 314.72 L164.37 314.39 L163.83 314.05 L163.28 313.71 L162.73 313.38 L162.18 313.04 L161.63 312.70 L161.07 312.37 L160.51 312.03 L159.95 311.69 L159.39 311.36 L158.82 311.02 L158.26 310.68 L157.69 310.35 L157.12 310.01 L156.54 309.67 L155.97 309.34 L155.39 309.00 L154.81 308.66 L154.23 308.33 L153.64 307.99 L153.06 307.65 L152.47 307.32 L151.87 306.98 L151.28 306.64 L150.68 306.31 L150.09 305.97 L149.48 305.63 L148.88 305.30 L148.28 304.96 L147.67 304.62 L147.06 304.28 L146.45 303.95 L145.83 303.61 L145.22 303.27 L144.60 302.94 L143.98 302.60 L143.35 302.26 L142.73 301.93 L142.10 301.59 L141.47 301.25 L140.83 300.92 L140.20 300.58 L139.56 300.24 L138.92 299.91 L138.28 299.57 L137.64 299.23 L136.99 298.90 L136.34 298.56 L135.69 298.22 L135.03 297.89 L134.38 297.55 L133.72 297.21 L133.06 296.88 L132.40 296.54 L131.73 296.20 L131.06 295.87 L130.39 295.53 L129.72 295.19 L129.04 294.86 L128.37 294.52 L127.69 294.18 L127.01 293.85 L126.32 293.51 L125.63 293.17 L124.95 292.84 L124.25 292.50 L123.56 292.16 L122.86 291.83 L122.17 291.49 L121.46 291.15 L120.76 290.82 L120.05 290.48 L119.35 290.14 L118.64 289.81 L117.92 289.47 L117.21 289.13 L116.49 288.80 L115.77 288.46 L115.05 288.12 L114.32 287.79 L113.59 287.45 L112.86 287.11 L112.13 286.78 L111.40 286.44 L110.66 286.10 L109.92 285.77 L109.18 285.43 L108.43 285.09 L107.69 284.76 L106.94 284.42 L106.18 284.08 L105.43 283.75 L104.67 283.41 L103.91 283.07 L103.15 282.74 L102.39 282.40 L101.62 282.06 L100.85 281.72 L100.08 281.39 L99.31 281.05 L98.53 280.71 L97.75 280.38 L96.97 280.04 L96.18 279.70 L95.40 279.37 L94.61 279.03 L93.82 278.69 L93.02 278.36 L92.23 278.02 L91.43 277.68 L90.63 277.35 L89.82 277.01 L89.01 276.67 L88.21 276.34 L87.39 276.00 L86.58 275.66 L85.76 275.33 L84.94 274.99 L84.12 274.65 L83.30 274.32 L82.47 273.98 L81.64 273.64 L80.81 273.31 L79.97 272.97 L79.14 272.63 L78.30 272.30 L77.45 271.96 L76.61 271.62 L75.76 271.29 L74.91 270.95" class="ts"/>
<path d="M243.55 405.30 L243.55 404.96 L243.55 404.63 L243.55 404.29 L243.54 403.95 L243.54 403.62 L243.53 403.28 L243.53 402.94 L243.52 402.61 L243.51 402.27 L243.51 401.93 L243.50 401.60 L243.49 401.26 L243.47 400.92 L243.46 400.59 L243.45 400.25 L243.43 399.91 L243.42 399.58 L243.40 399.24 L243.38 398.90 L243.36 398.57 L243.33 398.23 L243.31 397.89 L243.28 397.56 L243.26 397.22 L243.23 396.88 L243.20 396.55 L243.16 396.21 L243.13 395.87 L243.09 395.54 L243.05 395.20 L243.01 394.86 L242.97 394.53 L242.92 394.19 L242.87 393.85 L242.82 393.51 L242.77 393.18 L242.72 392.84 L242.66 392.50 L242.60 392.17 L242.54 391.83 L242.47 391.49 L242.41 391.16 L242.34 390.82 L242.27 390.48 L242.20 390.15 L242.12 389.81 L242.04 389.47 L241.96 389.14 L241.88 388.80 L241.80 388.46 L241.71 388.13 L241.62 387.79 L241.53 387.45 L241.44 387.12 L241.34 386.78 L241.24 386.44 L241.14 386.11 L241.04 385.77 L240.93 385.43 L240.83 385.10 L240.72 384.76 L240.61 384.42 L240.49 384.09 L240.38 383.75 L240.26 383.41 L240.14 383.08 L240.02 382.74 L239.89 382.40 L239.77 382.07 L239.64 381.73 L239.51 381.39 L239.38 381.06 L239.24 380.72 L239.11 380.38 L238.97 380.05 L238.83 379.71 L238.69 379.37 L238.54 379.04 L238.40 378.70 L238.25 378.36 L238.10 378.03 L237.95 377.69 L237.80 377.35 L237.64 377.02 L237.48 376.68 L237.32 376.34 L237.16 376.01 L237.00 375.67 L236.83 375.33 L236.67 375.00 L236.50 374.66 L236.32 374.32 L236.15 373.99 L235.98 373.65 L235.80 373.31 L235.62 372.98 L235.44 372.64 L235.26 372.30 L235.07 371.97 L234.89 371.63 L234.70 371.29 L234.51 370.95 L234.32 370.62 L234.12 370.28 L233.93 369.94 L233.73 369.61 L233.53 369.27 L233.33 368.93 L233.12 368.60 L232.92 368.26 L232.71 367.92 L232.50 367.59 L232.29 367.25 L232.07 366.91 L231.86 366.58 L231.64 366.24 L231.42 365.90 L231.20 365.57 L230.98 365.23 L230.75 364.89 L230.53 364.56 L230.30 364.22 L230.07 363.88 L229.83 363.55 L229.60 363.21 L229.36 362.87 L229.12 362.54 L228.88 362.20 L228.64 361.86 L228.40 361.53 L228.15 361.19 L227.90 360.85 L227.65 360.52 L227.40 360.18 L227.15 359.84 L226.89 359.51 L226.63 359.17 L226.37 358.83 L226.11 358.50 L225.85 358.16 L225.58 357.82 L225.31 357.49 L225.04 357.15 L224.77 356.81 L224.50 356.48 L224.22 356.14 L223.94 355.80 L223.66 355.47 L223.38 355.13 L223.10 354.79 L222.81 354.46 L222.52 354.12 L222.24 353.78 L221.94 353.45 L221.65 353.11 L221.35 352.77 L221.06 352.44 L220.76 352.10 L220.46 351.76 L220.15 351.43 L219.85 351.09 L219.54 350.75 L219.23 350.42 L218.92 350.08 L218.60 349.74 L218.29 349.41 L217.97 349.07 L217.65 348.73 L217.33 348.39 L217.01 348.06 L216.68 347.72 L216.35 347.38 L216.02 347.05 L215.69 346.71 L215.36 346.37 L215.02 346.04 L214.68 345.70 L214.34 345.36 L214.00 345.03 L213.66 344.69 L213.31 344.35 L212.96 344.02 L212.61 343.68 L212.26 343.34 L211.91 343.01 L211.55 342.67 L211.19 342.33 L210.83 342.00 L210.47 341.66 L210.11 341.32 L209.74 340.99 L209.37 340.65 L209.00 340.31 L208.63 339.98 L208.25 339.64 L207.88 339.30 L207.50 338.97 L207.12 338.63 L206.74 338.29 L206.35 337.96 L205.96 337.62 L205.57 337.28 L205.18 336.95 L204.79 336.61 L204.39 336.27 L204.00 335.94 L203.60 335.60 L203.20 335.26 L202.79 334.93 L202.39 334.59 L201.98 334.25 L201.57 333.92 L201.16 333.58 L200.74 333.24 L200.32 332.91 L199.91 332.57 L199.49 332.23 L199.06 331.90 L198.64 331.56 L198.21 331.22 L197.78 330.89 L197.35 330.55 L196.92 330.21 L196.48 329.88 L196.04 329.54 L195.60 329.20 L195.16 328.87 L194.72 328.53 L194.27 328.19 L193.82 327.86 L193.37 327.52 L192.92 327.18 L192.47 326.84 L192.01 326.51 L191.55 326.17 L191.09 325.83 L190.62 325.50 L190.16 325.16 L189.69 324.82 L189.22 324.49 L188.75 324.15 L188.27 323.81 L187.80 323.48 L187.32 323.14 L186.84 322.80 L186.35 322.47 L185.87 322.13 L185.38 321.79 L184.89 321.46 L184.40 321.12 L183.91 320.78 L183.41 320.45 L182.91 320.11 L182.41 319.77 L181.91 319.44 L181.40 319.10 L180.90 318.76 L180.39 318.43 L179.87 318.09 L179.36 317.75 L178.84 317.42 L178.32 317.08 L177.80 316.74 L177.28 316.41 L176.76 316.07 L176.23 315.73 L175.70 315.40 L175.17 315.06 L174.63 314.72 L174.10 314.39 L173.56 314.05 L173.02 313.71 L172.47 313.38 L171.93 313.04 L171.38 312.70 L170.83 312.37 L170.28 312.03 L169.72 311.69 L169.16 311.36 L168.61 311.02 L168.04 310.68 L167.48 310.35 L166.91 310.01 L166.35 309.67 L165.77 309.34 L165.20 309.00 L164.63 308.66 L164.05 308.33 L163.47 307.99 L162.89 307.65 L162.30 307.32 L161.71 306.98 L161.13 306.64 L160.53 306.31 L159.94 305.97 L159.34 305.63 L158.74 305.30 L158.14 304.96 L157.54 304.62 L156.93 304.28 L156.33 303.95 L155.72 303.61 L155.10 303.27 L154.49 302.94 L153.87 302.60 L153.25 302.26 L152.63 301.93 L152.00 301.59 L151.38 301.25 L150.75 300.92 L150.12 300.58 L149.48 300.24 L148.84 299.91 L148.21 299.57 L147.56 299.23 L146.92 298.90 L146.27 298.56 L145.63 298.22 L144.97 297.89 L144.32 297.55 L143.66 297.21 L143.01 296.88 L142.35 296.54 L141.68 296.20 L141.02 295.87 L140.35 295.53 L139.68 295.19 L139.00 294.86 L138.33 294.52 L137.65 294.18 L136.97 293.85 L136.29 293.51 L135.60 293.17 L134.91 292.84 L134.22 292.50 L133.53 292.16 L132.84 291.83 L132.14 291.49 L131.44 291.15 L130.74 290.82 L130.03 290.48 L129.32 290.14 L128.61 289.81 L127.90 289.47 L127.18 289.13 L126.47 288.80 L125.75 288.46 L125.02 288.12 L124.30 287.79 L123.57 287.45 L122.84 287.11 L122.11 286.78 L121.37 286.44 L120.63 286.10 L119.89 285.77 L119.15 285.43 L118.40 285.09 L117.66 284.76 L116.90 284.42 L116.15 284.08 L115.40 283.75 L114.64 283.41 L113.88 283.07 L113.11 282.74 L112.35 282.40 L111.58 282.06 L110.80 281.72 L110.03 281.39 L109.25 281.05 L108.47 280.71 L107.69 280.38 L106.91 280.04 L106.12 279.70 L105.33 279.37 L104.54 279.03 L103.74 278.69 L102.94 278.36 L102.14 278.02 L101.34 277.68 L100.54 277.35 L99.73 277.01 L98.92 276.67 L98.10 276.34 L97.29 276.00 L96.47 275.66 L95.64 275.33 L94.82 274.99 L93.99 274.65 L93.16 274.32 L92.33 273.98 L91.50 273.64 L90.66 273.31 L89.82 272.97 L88.97 272.63 L88.13 272.30 L87.28 271.96 L86.43 271.62 L85.57 271.29 L84.72 270.95" class="td"/>
<path d="M259.70 405.30 L259.70 404.96 L259.69 404.63 L259.67 404.29 L259.64 403.95 L259.61 403.62 L259.57 403.28 L259.52 402.94 L259.46 402.61 L259.39 402.27 L259.32 401.93 L259.24 401.60 L259.15 401.26 L259.05 400.92 L258.94 400.59 L258.82 400.25 L258.70 399.91 L258.56 399.58 L258.42 399.24 L258.26 398.90 L258.10 398.57 L257.92 398.23 L257.73 397.89 L257.54 397.56 L257.33 397.22 L257.11 396.88 L256.88 396.55 L256.64 396.21 L256.39 395.87 L256.12 395.54 L255.85 395.20 L255.56 394.86 L255.26 394.53 L254.95 394.19 L254.62 393.85 L254.28 393.51 L253.93 393.18 L253.57 392.84 L253.19 392.50 L252.80 392.17 L252.40 391.83 L251.99 391.49 L251.56 391.16 L251.12 390.82 L250.66 390.48 L250.20 390.15 L249.72 389.81 L249.23 389.47 L248.72 389.14 L248.20 388.80 L247.67 388.46 L247.13 388.13 L246.57 387.79 L246.00 387.45 L245.42 387.12 L244.82 386.78 L244.22 386.44 L243.60 386.11 L242.96 385.77 L242.32 385.43 L241.66 385.10 L240.99 384.76 L240.31 384.42 L239.62 384.09 L238.91 383.75 L238.19 383.41 L237.46 383.08 L236.72 382.74 L235.97 382.40 L235.20 382.07 L234.42 381.73 L233.64 381.39 L232.83 381.06 L232.02 380.72 L231.20 380.38 L230.36 380.05 L229.51 379.71 L228.65 379.37 L227.78 379.04 L226.90 378.70 L226.01 378.36 L225.10 378.03 L224.19 377.69 L223.26 377.35 L222.32 377.02 L221.37 376.68 L220.41 376.34 L219.43 376.01 L218.45 375.67 L217.45 375.33 L216.45 375.00 L215.43 374.66 L214.40 374.32 L213.36 373.99 L212.30 373.65 L211.24 373.31 L210.17 372.98 L209.08 372.64 L207.98 372.30 L206.88 371.97 L205.76 371.63 L204.63 371.29 L203.48 370.95 L202.33 370.62 L201.17 370.28 L199.99 369.94 L198.81 369.61 L197.61 369.27 L196.40 368.93 L195.18 368.60 L193.95 368.26 L192.71 367.92 L191.45 367.59 L190.19 367.25 L188.91 366.91 L187.63 366.58 L186.33 366.24 L185.02 365.90 L183.70 365.57 L182.37 365.23 L181.03 364.89 L179.67 364.56 L178.31 364.22 L176.93 363.88 L175.55 363.55 L174.15 363.21 L172.74 362.87 L171.32 362.54 L169.89 362.20 L168.45 361.86 L166.99 361.53 L165.53 361.19 L164.05 360.85 L162.57 360.52 L161.07 360.18 L159.56 359.84 L158.04 359.51 L156.51 359.17 L154.97 358.83 L153.42 358.50 L151.85 358.16 L150.28 357.82 L148.69 357.49 L147.09 357.15 L145.49 356.81 L143.87 356.48 L142.24 356.14 L140.60 355.80 L138.94 355.47 L137.28 355.13 L135.61 354.79 L133.92 354.46 L132.23 354.12 L130.52 353.78 L128.80 353.45 L127.07 353.11 L125.33 352.77 L123.58 352.44 L121.82 352.10 L120.05 351.76 L118.26 351.43 L116.47 351.09 L114.66 350.75 L112.84 350.42 L111.02 350.08 L109.18 349.74 L107.33 349.41 L105.47 349.07 L103.60 348.73 L101.71 348.39 L99.82 348.06 L97.92 347.72 L96.00 347.38 L94.08 347.05 L92.14 346.71 L90.19 346.37 L88.23 346.04 L86.26 345.70 L84.28 345.36 L82.29 345.03 L80.29 344.69 L78.28 344.35 L76.25 344.02 L74.22 343.68 L72.17 343.34 L70.11 343.01 L68.05 342.67 L65.97 342.33 L63.88 342.00 L61.78 341.66 L59.67 341.32 L57.55 340.99 L55.41 340.65 L53.27 340.31 L51.12 339.98 L48.95 339.64 L46.78 339.30 L44.59 338.97 L43.05 338.73" class="ks"/>
<path d="M284.88 371.87 L284.13 371.63 L283.09 371.29 L282.03 370.95 L280.97 370.62 L279.89 370.28 L278.80 369.94 L277.70 369.61 L276.59 369.27 L275.47 368.93 L274.34 368.60 L273.20 368.26 L272.04 367.92 L270.88 367.59 L269.70 367.25 L268.51 366.91 L267.31 366.58 L266.10 366.24 L264.87 365.90 L263.64 365.57 L262.40 365.23 L261.14 364.89 L259.87 364.56 L258.59 364.22 L257.30 363.88 L256.00 363.55 L254.68 363.21 L253.36 362.87 L252.02 362.54 L250.67 362.20 L249.31 361.86 L247.94 361.53 L246.55 361.19 L245.16 360.85 L243.75 360.52 L242.33 360.18 L240.90 359.84 L239.46 359.51 L238.00 359.17 L236.54 358.83 L235.06 358.50 L233.57 358.16 L232.07 357.82 L230.55 357.49 L229.03 357.15 L227.49 356.81 L225.94 356.48 L224.38 356.14 L222.80 355.80 L221.22 355.47 L219.62 355.13 L218.01 354.79 L216.39 354.46 L214.75 354.12 L213.10 353.78 L211.44 353.45 L209.77 353.11 L208.09 352.77 L206.39 352.44 L204.68 352.10 L202.96 351.76 L201.23 351.43 L199.48 351.09 L197.72 350.75 L195.95 350.42 L194.17 350.08 L192.37 349.74 L190.56 349.41 L188.74 349.07 L186.90 348.73 L185.06 348.39 L183.20 348.06 L181.32 347.72 L179.44 347.38 L177.54 347.05 L175.63 346.71 L173.70 346.37 L171.76 346.04 L169.81 345.70 L167.85 345.36 L165.87 345.03 L163.88 344.69 L161.88 344.35 L159.87 344.02 L157.84 343.68 L155.79 343.34 L153.74 343.01 L151.67 342.67 L149.59 342.33 L147.49 342.00 L145.38 341.66 L143.26 341.32 L141.12 340.99 L138.97 340.65 L136.81 340.31 L134.63 339.98 L132.44 339.64 L130.24 339.30 L128.02 338.97 L125.79 338.63 L123.54 338.29 L121.28 337.96 L119.01 337.62 L116.72 337.28 L114.42 336.95 L112.11 336.61 L109.78 336.27 L107.43 335.94 L105.08 335.60 L102.70 335.26 L100.32 334.93 L97.92 334.59 L95.51 334.25 L93.08 333.92 L90.63 333.58 L88.18 333.24 L85.71 332.91 L83.22 332.57 L80.72 332.23 L78.21 331.90 L75.68 331.56 L73.13 331.22 L70.57 330.89 L68.00 330.55 L65.41 330.21 L62.81 329.88 L60.19 329.54 L57.56 329.20 L54.91 328.87 L52.25 328.53 L49.57 328.19 L46.88 327.86 L44.17 327.52 L43.05 327.38" class="kd"/>
<rect x="43.05" y="270.90" width="241.83" height="134.40" class="fr"/>
<path d="M43.05 405.30 h4.00 M284.88 405.30 h-4.00 M43.05 378.43 h4.00 M284.88 378.43 h-4.00 M43.05 351.56 h4.00 M284.88 351.56 h-4.00 M43.05 324.69 h4.00 M284.88 324.69 h-4.00 M43.05 297.82 h4.00 M284.88 297.82 h-4.00 M43.05 270.95 h4.00 M284.88 270.95 h-4.00 M43.05 405.30 v-4.00 M43.05 270.90 v4.00 M70.02 405.30 v-2.00 M70.02 270.90 v2.00 M85.80 405.30 v-2.00 M85.80 270.90 v2.00 M96.99 405.30 v-2.00 M96.99 270.90 v2.00 M105.68 405.30 v-2.00 M105.68 270.90 v2.00 M112.77 405.30 v-2.00 M112.77 270.90 v2.00 M118.77 405.30 v-2.00 M118.77 270.90 v2.00 M123.97 405.30 v-2.00 M123.97 270.90 v2.00 M128.55 405.30 v-2.00 M128.55 270.90 v2.00 M132.65 405.30 v-4.00 M132.65 270.90 v4.00 M159.62 405.30 v-2.00 M159.62 270.90 v2.00 M175.40 405.30 v-2.00 M175.40 270.90 v2.00 M186.59 405.30 v-2.00 M186.59 270.90 v2.00 M195.28 405.30 v-2.00 M195.28 270.90 v2.00 M202.37 405.30 v-2.00 M202.37 270.90 v2.00 M208.37 405.30 v-2.00 M208.37 270.90 v2.00 M213.57 405.30 v-2.00 M213.57 270.90 v2.00 M218.15 405.30 v-2.00 M218.15 270.90 v2.00 M222.25 405.30 v-4.00 M222.25 270.90 v4.00 M249.22 405.30 v-2.00 M249.22 270.90 v2.00 M265.00 405.30 v-2.00 M265.00 270.90 v2.00 M276.19 405.30 v-2.00 M276.19 270.90 v2.00 M284.88 405.30 v-2.00 M284.88 270.90 v2.00" class="tk"/>
<text x="31.30" y="410.20" text-anchor="end">0</text>
<text x="31.30" y="383.33" text-anchor="end">1</text>
<text x="31.30" y="356.46" text-anchor="end">2</text>
<text x="31.30" y="329.59" text-anchor="end">3</text>
<text x="31.30" y="302.72" text-anchor="end">4</text>
<text x="31.30" y="275.85" text-anchor="end">5</text>
<text x="44.65" y="430.50" text-anchor="middle">0.1</text>
<text x="134.25" y="430.50" text-anchor="middle">1</text>
<text x="223.85" y="430.50" text-anchor="middle">10</text>
<text x="164.10" y="453.20" text-anchor="middle">radius (AU)</text>
<text transform="translate(13.40,338.45) rotate(-90)" text-anchor="middle">height (z/H)</text>
<text x="129.60" y="251.30" text-anchor="middle">f<tspan dy="4.7" font-size="12.8" font-family="Liberation Serif,serif">Σ</tspan><tspan dy="-4.7">=3</tspan></text>
<text x="239.20" y="250.10" text-anchor="end">β=100</text>
<text x="239.20" y="265.10" text-anchor="end">1000</text>
<line x1="248.20" x2="288.70" y1="244.80" y2="244.80" class="lg1"/>
<line x1="248.20" x2="288.70" y1="260.50" y2="260.50" class="lg2"/>
</g>
<g>
<line x1="353.05" x2="594.88" y1="378.43" y2="378.43" class="gr"/>
<line x1="353.05" x2="594.88" y1="351.56" y2="351.56" class="gr"/>
<line x1="353.05" x2="594.88" y1="324.69" y2="324.69" class="gr"/>
<line x1="353.05" x2="594.88" y1="297.82" y2="297.82" class="gr"/>
<line x1="442.65" x2="442.65" y1="270.90" y2="405.30" class="gr"/>
<line x1="532.25" x2="532.25" y1="270.90" y2="405.30" class="gr"/>
<path d="M566.93 405.30 H594.88 M566.93 402.61 H594.88 M566.89 399.93 H594.88 M566.78 397.24 H594.88 M566.56 394.55 H594.88 M566.17 391.87 H594.88 M565.62 389.18 H594.88 M564.89 386.49 H594.88 M563.99 383.80 H594.88 M562.95 381.12 H594.88 M561.76 378.43 H594.88 M560.43 375.74 H594.88 M558.98 373.06 H594.88 M557.40 370.37 H594.88 M555.69 367.68 H594.88 M553.85 365.00 H594.88 M551.89 362.31 H594.88 M549.79 359.62 H594.88 M547.57 356.93 H594.88 M545.22 354.25 H594.88 M533.16 351.56 H594.88 M518.94 348.87 H594.88 M503.91 346.19 H594.88 M488.05 343.50 H594.88 M471.33 340.81 H594.88 M453.75 338.12 H594.88" class="hh"/>
<path d="M594.88 405.30 V338.12 M592.19 405.30 V338.12 M589.50 405.30 V338.12 M586.81 405.30 V338.12 M584.13 405.30 V338.12 M581.44 405.30 V338.12 M578.75 405.30 V338.12 M576.06 405.30 V338.12 M573.37 405.30 V338.12 M570.69 405.30 V338.12 M568.00 405.30 V338.12 M565.31 387.96 V338.12 M562.62 380.35 V338.12 M559.93 374.79 V338.12 M557.25 370.12 V338.12 M554.56 366.01 V338.12 M551.87 362.29 V338.12 M549.18 358.87 V338.12 M546.49 355.69 V338.12 M543.81 352.70 V338.12 M541.12 349.88 V338.12 M538.43 347.19 V338.12 M535.74 344.63 V338.12 M533.05 342.17 V338.12 M530.37 339.81 V338.12" class="hv"/>
<path d="M559.98 405.30 L559.98 404.96 L559.97 404.63 L559.97 404.29 L559.96 403.95 L559.95 403.62 L559.93 403.28 L559.92 402.94 L559.90 402.61 L559.88 402.27 L559.86 401.93 L559.83 401.60 L559.80 401.26 L559.77 400.92 L559.74 400.59 L559.71 400.25 L559.67 399.91 L559.63 399.58 L559.59 399.24 L559.54 398.90 L559.50 398.57 L559.45 398.23 L559.40 397.89 L559.35 397.56 L559.29 397.22 L559.24 396.88 L559.18 396.55 L559.12 396.21 L559.06 395.87 L558.99 395.54 L558.93 395.20 L558.86 394.86 L558.79 394.53 L558.72 394.19 L558.64 393.85 L558.57 393.51 L558.49 393.18 L558.41 392.84 L558.33 392.50 L558.24 392.17 L558.16 391.83 L558.07 391.49 L557.98 391.16 L557.89 390.82 L557.80 390.48 L557.70 390.15 L557.61 389.81 L557.51 389.47 L557.41 389.14 L557.31 388.80 L557.20 388.46 L557.10 388.13 L556.99 387.79 L556.88 387.45 L556.77 387.12 L556.66 386.78 L556.54 386.44 L556.42 386.11 L556.30 385.77 L556.18 385.43 L556.06 385.10 L555.94 384.76 L555.81 384.42 L555.68 384.09 L555.55 383.75 L555.42 383.41 L555.29 383.08 L555.15 382.74 L555.01 382.40 L554.87 382.07 L554.73 381.73 L554.58 381.39 L554.44 381.06 L554.29 380.72 L554.14 380.38 L553.99 380.05 L553.83 379.71 L553.68 379.37 L553.52 379.04 L553.36 378.70 L553.20 378.36 L553.03 378.03 L552.87 377.69 L552.70 377.35 L552.53 377.02 L552.36 376.68 L552.18 376.34 L552.01 376.01 L551.83 375.67 L551.65 375.33 L551.47 375.00 L551.28 374.66 L551.10 374.32 L550.91 373.99 L550.72 373.65 L550.52 373.31 L550.33 372.98 L550.13 372.64 L549.93 372.30 L549.73 371.97 L549.53 371.63 L549.33 371.29 L549.12 370.95 L548.91 370.62 L548.70 370.28 L548.49 369.94 L548.27 369.61 L548.06 369.27 L547.84 368.93 L547.62 368.60 L547.39 368.26 L547.17 367.92 L546.94 367.59 L546.71 367.25 L546.48 366.91 L546.25 366.58 L546.01 366.24 L545.77 365.90 L545.54 365.57 L545.29 365.23 L545.05 364.89 L544.80 364.56 L544.56 364.22 L544.31 363.88 L544.06 363.55 L543.80 363.21 L543.55 362.87 L543.29 362.54 L543.03 362.20 L542.77 361.86 L542.50 361.53 L542.24 361.19 L541.97 360.85 L541.70 360.52 L541.43 360.18 L541.15 359.84 L540.88 359.51 L540.60 359.17 L540.32 358.83 L540.04 358.50 L539.75 358.16 L539.47 357.82 L539.18 357.49 L538.89 357.15 L538.59 356.81 L538.30 356.48 L538.00 356.14 L537.70 355.80 L537.40 355.47 L537.10 355.13 L536.79 354.79 L536.49 354.46 L536.18 354.12 L535.87 353.78 L535.55 353.45 L535.24 353.11 L534.92 352.77 L534.60 352.44 L534.28 352.10 L533.96 351.76 L533.63 351.43 L533.31 351.09 L532.98 350.75 L532.64 350.42 L532.31 350.08 L531.98 349.74 L531.64 349.41 L531.30 349.07 L530.96 348.73 L530.61 348.39 L530.27 348.06 L529.92 347.72 L529.57 347.38 L529.22 347.05 L528.86 346.71 L528.51 346.37 L528.15 346.04 L527.79 345.70 L527.42 345.36 L527.06 345.03 L526.69 344.69 L526.32 344.35 L525.95 344.02 L525.58 343.68 L525.21 343.34 L524.83 343.01 L524.45 342.67 L524.07 342.33 L523.69 342.00 L523.30 341.66 L522.91 341.32 L522.53 340.99 L522.13 340.65 L521.74 340.31 L521.35 339.98 L520.95 339.64 L520.55 339.30 L520.15 338.97 L519.74 338.63 L519.34 338.29 L518.93 337.96 L518.52 337.62 L518.11 337.28 L517.69 336.95 L517.28 336.61 L516.86 336.27 L516.44 335.94 L516.02 335.60 L515.59 335.26 L515.17 334.93 L514.74 334.59 L514.31 334.25 L513.88 333.92 L513.44 333.58 L513.01 333.24 L512.57 332.91 L512.13 332.57 L511.68 332.23 L511.24 331.90 L510.79 331.56 L510.34 331.22 L509.89 330.89 L509.44 330.55 L508.98 330.21 L508.52 329.88 L508.07 329.54 L507.60 329.20 L507.14 328.87 L506.67 328.53 L506.21 328.19 L505.74 327.86 L505.27 327.52 L504.79 327.18 L504.32 326.84 L503.84 326.51 L503.36 326.17 L502.87 325.83 L502.39 325.50 L501.90 325.16 L501.42 324.82 L500.93 324.49 L500.43 324.15 L499.94 323.81 L499.44 323.48 L498.94 323.14 L498.44 322.80 L497.94 322.47 L497.43 322.13 L496.93 321.79 L496.42 321.46 L495.91 321.12 L495.39 320.78 L494.88 320.45 L494.36 320.11 L493.84 319.77 L493.32 319.44 L492.79 319.10 L492.27 318.76 L491.74 318.43 L491.21 318.09 L490.68 317.75 L490.14 317.42 L489.61 317.08 L489.07 316.74 L488.53 316.41 L487.99 316.07 L487.44 315.73 L486.89 315.40 L486.35 315.06 L485.79 314.72 L485.24 314.39 L484.69 314.05 L484.13 313.71 L483.57 313.38 L483.01 313.04 L482.45 312.70 L481.88 312.37 L481.31 312.03 L480.74 311.69 L480.17 311.36 L479.60 311.02 L479.02 310.68 L478.44 310.35 L477.86 310.01 L477.28 309.67 L476.70 309.34 L476.11 309.00 L475.52 308.66 L474.93 308.33 L474.34 307.99 L473.74 307.65 L473.15 307.32 L472.55 306.98 L471.94 306.64 L471.34 306.31 L470.74 305.97 L470.13 305.63 L469.52 305.30 L468.91 304.96 L468.29 304.62 L467.68 304.28 L467.06 303.95 L466.44 303.61 L465.82 303.27 L465.19 302.94 L464.57 302.60 L463.94 302.26 L463.31 301.93 L462.68 301.59 L462.04 301.25 L461.40 300.92 L460.76 300.58 L460.12 300.24 L459.48 299.91 L458.84 299.57 L458.19 299.23 L457.54 298.90 L456.89 298.56 L456.23 298.22 L455.58 297.89 L454.92 297.55 L454.26 297.21 L453.60 296.88 L452.93 296.54 L452.27 296.20 L451.60 295.87 L450.93 295.53 L450.25 295.19 L449.58 294.86 L448.90 294.52 L448.22 294.18 L447.54 293.85 L446.86 293.51 L446.17 293.17 L445.49 292.84 L444.80 292.50 L444.10 292.16 L443.41 291.83 L442.71 291.49 L442.02 291.15 L441.32 290.82 L440.61 290.48 L439.91 290.14 L439.20 289.81 L438.49 289.47 L437.78 289.13 L437.07 288.80 L436.35 288.46 L435.64 288.12 L434.92 287.79 L434.20 287.45 L433.47 287.11 L432.75 286.78 L432.02 286.44 L431.29 286.10 L430.56 285.77 L429.82 285.43 L429.09 285.09 L428.35 284.76 L427.61 284.42 L426.86 284.08 L426.12 283.75 L425.37 283.41 L424.62 283.07 L423.87 282.74 L423.12 282.40 L422.36 282.06 L421.60 281.72 L420.84 281.39 L420.08 281.05 L419.32 280.71 L418.55 280.38 L417.78 280.04 L417.01 279.70 L416.24 279.37 L415.47 279.03 L414.69 278.69 L413.91 278.36 L413.13 278.02 L412.35 277.68 L411.56 277.35 L410.77 277.01 L409.98 276.67 L409.19 276.34 L408.40 276.00 L407.60 275.66 L406.80 275.33 L406.00 274.99 L405.20 274.65 L404.39 274.32 L403.59 273.98 L402.78 273.64 L401.97 273.31 L401.15 272.97 L400.34 272.63 L399.52 272.30 L398.70 271.96 L397.88 271.62 L397.05 271.29 L396.23 270.95" class="ts"/>
<path d="M566.93 405.30 L566.93 404.96 L566.93 404.63 L566.93 404.29 L566.93 403.95 L566.93 403.62 L566.93 403.28 L566.93 402.94 L566.93 402.61 L566.93 402.27 L566.92 401.93 L566.92 401.60 L566.91 401.26 L566.91 400.92 L566.90 400.59 L566.90 400.25 L566.89 399.91 L566.88 399.58 L566.87 399.24 L566.86 398.90 L566.85 398.57 L566.83 398.23 L566.82 397.89 L566.80 397.56 L566.78 397.22 L566.76 396.88 L566.74 396.55 L566.71 396.21 L566.68 395.87 L566.66 395.54 L566.62 395.20 L566.59 394.86 L566.55 394.53 L566.51 394.19 L566.47 393.85 L566.43 393.51 L566.38 393.18 L566.33 392.84 L566.28 392.50 L566.23 392.17 L566.17 391.83 L566.11 391.49 L566.05 391.16 L565.98 390.82 L565.91 390.48 L565.84 390.15 L565.77 389.81 L565.69 389.47 L565.61 389.14 L565.53 388.80 L565.44 388.46 L565.35 388.13 L565.26 387.79 L565.17 387.45 L565.07 387.12 L564.98 386.78 L564.87 386.44 L564.77 386.11 L564.66 385.77 L564.55 385.43 L564.44 385.10 L564.33 384.76 L564.21 384.42 L564.09 384.09 L563.97 383.75 L563.85 383.41 L563.72 383.08 L563.60 382.74 L563.47 382.40 L563.33 382.07 L563.20 381.73 L563.06 381.39 L562.92 381.06 L562.78 380.72 L562.63 380.38 L562.49 380.05 L562.34 379.71 L562.19 379.37 L562.04 379.04 L561.88 378.70 L561.73 378.36 L561.57 378.03 L561.41 377.69 L561.24 377.35 L561.08 377.02 L560.91 376.68 L560.74 376.34 L560.57 376.01 L560.40 375.67 L560.22 375.33 L560.04 375.00 L559.86 374.66 L559.68 374.32 L559.50 373.99 L559.31 373.65 L559.12 373.31 L558.93 372.98 L558.74 372.64 L558.55 372.30 L558.35 371.97 L558.16 371.63 L557.96 371.29 L557.75 370.95 L557.55 370.62 L557.35 370.28 L557.14 369.94 L556.93 369.61 L556.72 369.27 L556.50 368.93 L556.29 368.60 L556.07 368.26 L555.85 367.92 L555.63 367.59 L555.40 367.25 L555.18 366.91 L554.95 366.58 L554.72 366.24 L554.49 365.90 L554.25 365.57 L554.02 365.23 L553.78 364.89 L553.54 364.56 L553.30 364.22 L553.05 363.88 L552.81 363.55 L552.56 363.21 L552.31 362.87 L552.06 362.54 L551.80 362.20 L551.55 361.86 L551.29 361.53 L551.03 361.19 L550.77 360.85 L550.50 360.52 L550.24 360.18 L549.97 359.84 L549.70 359.51 L549.43 359.17 L549.15 358.83 L548.88 358.50 L548.60 358.16 L548.32 357.82 L548.04 357.49 L547.75 357.15 L547.47 356.81 L547.18 356.48 L546.89 356.14 L546.59 355.80 L546.30 355.47 L546.00 355.13 L545.70 354.79 L545.40 354.46 L545.10 354.12 L544.80 353.78 L544.49 353.45 L544.18 353.11 L543.87 352.77 L543.56 352.44 L543.24 352.10 L542.93 351.76 L542.61 351.43 L542.29 351.09 L541.97 350.75 L541.64 350.42 L541.31 350.08 L540.98 349.74 L540.65 349.41 L540.32 349.07 L539.99 348.73 L539.65 348.39 L539.31 348.06 L538.97 347.72 L538.63 347.38 L538.28 347.05 L537.93 346.71 L537.58 346.37 L537.23 346.04 L536.88 345.70 L536.52 345.36 L536.17 345.03 L535.81 344.69 L535.44 344.35 L535.08 344.02 L534.72 343.68 L534.35 343.34 L533.98 343.01 L533.61 342.67 L533.23 342.33 L532.86 342.00 L532.48 341.66 L532.10 341.32 L531.72 340.99 L531.33 340.65 L530.95 340.31 L530.56 339.98 L530.17 339.64 L529.77 339.30 L529.38 338.97 L528.98 338.63 L528.58 338.29 L528.18 337.96 L527.78 337.62 L527.38 337.28 L526.97 336.95 L526.56 336.61 L526.15 336.27 L525.74 335.94 L525.32 335.60 L524.91 335.26 L524.49 334.93 L524.06 334.59 L523.64 334.25 L523.22 333.92 L522.79 333.58 L522.36 333.24 L521.93 332.91 L521.49 332.57 L521.06 332.23 L520.62 331.90 L520.18 331.56 L519.74 331.22 L519.29 330.89 L518.85 330.55 L518.40 330.21 L517.95 329.88 L517.50 329.54 L517.04 329.20 L516.59 328.87 L516.13 328.53 L515.67 328.19 L515.20 327.86 L514.74 327.52 L514.27 327.18 L513.80 326.84 L513.33 326.51 L512.86 326.17 L512.38 325.83 L511.90 325.50 L511.43 325.16 L510.94 324.82 L510.46 324.49 L509.97 324.15 L509.49 323.81 L509.00 323.48 L508.50 323.14 L508.01 322.80 L507.51 322.47 L507.01 322.13 L506.51 321.79 L506.01 321.46 L505.51 321.12 L505.00 320.78 L504.49 320.45 L503.98 320.11 L503.47 319.77 L502.95 319.44 L502.43 319.10 L501.91 318.76 L501.39 318.43 L500.87 318.09 L500.34 317.75 L499.81 317.42 L499.28 317.08 L498.75 316.74 L498.22 316.41 L497.68 316.07 L497.14 315.73 L496.60 315.40 L496.06 315.06 L495.51 314.72 L494.97 314.39 L494.42 314.05 L493.87 313.71 L493.31 313.38 L492.76 313.04 L492.20 312.70 L491.64 312.37 L491.08 312.03 L490.51 311.69 L489.95 311.36 L489.38 311.02 L488.81 310.68 L488.23 310.35 L487.66 310.01 L487.08 309.67 L486.50 309.34 L485.92 309.00 L485.34 308.66 L484.75 308.33 L484.17 307.99 L483.58 307.65 L482.98 307.32 L482.39 306.98 L481.79 306.64 L481.19 306.31 L480.59 305.97 L479.99 305.63 L479.39 305.30 L478.78 304.96 L478.17 304.62 L477.56 304.28 L476.94 303.95 L476.33 303.61 L475.71 303.27 L475.09 302.94 L474.47 302.60 L473.84 302.26 L473.22 301.93 L472.59 301.59 L471.96 301.25 L471.32 300.92 L470.69 300.58 L470.05 300.24 L469.41 299.91 L468.77 299.57 L468.12 299.23 L467.48 298.90 L466.83 298.56 L466.18 298.22 L465.53 297.89 L464.87 297.55 L464.21 297.21 L463.56 296.88 L462.89 296.54 L462.23 296.20 L461.56 295.87 L460.90 295.53 L460.23 295.19 L459.55 294.86 L458.88 294.52 L458.20 294.18 L457.52 293.85 L456.84 293.51 L456.16 293.17 L455.47 292.84 L454.78 292.50 L454.09 292.16 L453.40 291.83 L452.71 291.49 L452.01 291.15 L451.31 290.82 L450.61 290.48 L449.91 290.14 L449.20 289.81 L448.49 289.47 L447.78 289.13 L447.07 288.80 L446.36 288.46 L445.64 288.12 L444.92 287.79 L444.20 287.45 L443.48 287.11 L442.75 286.78 L442.02 286.44 L441.29 286.10 L440.56 285.77 L439.82 285.43 L439.09 285.09 L438.35 284.76 L437.61 284.42 L436.86 284.08 L436.12 283.75 L435.37 283.41 L434.62 283.07 L433.87 282.74 L433.11 282.40 L432.36 282.06 L431.60 281.72 L430.83 281.39 L430.07 281.05 L429.30 280.71 L428.54 280.38 L427.77 280.04 L426.99 279.70 L426.22 279.37 L425.44 279.03 L424.66 278.69 L423.88 278.36 L423.09 278.02 L422.31 277.68 L421.52 277.35 L420.73 277.01 L419.94 276.67 L419.14 276.34 L418.34 276.00 L417.54 275.66 L416.74 275.33 L415.93 274.99 L415.13 274.65 L414.32 274.32 L413.51 273.98 L412.69 273.64 L411.88 273.31 L411.06 272.97 L410.24 272.63 L409.42 272.30 L408.59 271.96 L407.76 271.62 L406.93 271.29 L406.10 270.95" class="td"/>
<path d="M590.07 405.30 L590.07 404.96 L590.05 404.63 L590.03 404.29 L590.01 403.95 L589.97 403.62 L589.92 403.28 L589.87 402.94 L589.81 402.61 L589.74 402.27 L589.66 401.93 L589.58 401.60 L589.48 401.26 L589.38 400.92 L589.26 400.59 L589.14 400.25 L589.01 399.91 L588.87 399.58 L588.72 399.24 L588.56 398.90 L588.39 398.57 L588.21 398.23 L588.02 397.89 L587.82 397.56 L587.61 397.22 L587.39 396.88 L587.16 396.55 L586.92 396.21 L586.66 395.87 L586.40 395.54 L586.13 395.20 L585.84 394.86 L585.54 394.53 L585.24 394.19 L584.92 393.85 L584.59 393.51 L584.24 393.18 L583.89 392.84 L583.53 392.50 L583.15 392.17 L582.76 391.83 L582.36 391.49 L581.95 391.16 L581.53 390.82 L581.09 390.48 L580.64 390.15 L580.19 389.81 L579.72 389.47 L579.23 389.14 L578.74 388.80 L578.23 388.46 L577.72 388.13 L577.19 387.79 L576.65 387.45 L576.09 387.12 L575.53 386.78 L574.95 386.44 L574.37 386.11 L573.77 385.77 L573.16 385.43 L572.53 385.10 L571.90 384.76 L571.26 384.42 L570.60 384.09 L569.93 383.75 L569.25 383.41 L568.56 383.08 L567.86 382.74 L567.15 382.40 L566.42 382.07 L565.68 381.73 L564.94 381.39 L564.18 381.06 L563.41 380.72 L562.63 380.38 L561.83 380.05 L561.03 379.71 L560.22 379.37 L559.39 379.04 L558.55 378.70 L557.70 378.36 L556.84 378.03 L555.97 377.69 L555.09 377.35 L554.19 377.02 L553.29 376.68 L552.37 376.34 L551.44 376.01 L550.50 375.67 L549.55 375.33 L548.59 375.00 L547.62 374.66 L546.63 374.32 L545.64 373.99 L544.63 373.65 L543.61 373.31 L542.58 372.98 L541.54 372.64 L540.49 372.30 L539.42 371.97 L538.35 371.63 L537.26 371.29 L536.16 370.95 L535.05 370.62 L533.93 370.28 L532.80 369.94 L531.65 369.61 L530.50 369.27 L529.33 368.93 L528.15 368.60 L526.96 368.26 L525.75 367.92 L524.54 367.59 L523.31 367.25 L522.07 366.91 L520.82 366.58 L519.56 366.24 L518.29 365.90 L517.00 365.57 L515.71 365.23 L514.40 364.89 L513.08 364.56 L511.74 364.22 L510.40 363.88 L509.04 363.55 L507.67 363.21 L506.29 362.87 L504.90 362.54 L503.50 362.20 L502.08 361.86 L500.65 361.53 L499.21 361.19 L497.75 360.85 L496.29 360.52 L494.81 360.18 L493.32 359.84 L491.82 359.51 L490.30 359.17 L488.78 358.83 L487.24 358.50 L485.69 358.16 L484.12 357.82 L482.55 357.49 L480.96 357.15 L479.35 356.81 L477.74 356.48 L476.11 356.14 L474.48 355.80 L472.82 355.47 L471.16 355.13 L469.48 354.79 L467.79 354.46 L466.09 354.12 L464.37 353.78 L462.65 353.45 L460.91 353.11 L459.15 352.77 L457.39 352.44 L455.61 352.10 L453.81 351.76 L452.01 351.43 L450.19 351.09 L448.36 350.75 L446.52 350.42 L444.66 350.08 L442.79 349.74 L440.90 349.41 L439.01 349.07 L437.10 348.73 L435.17 348.39 L433.24 348.06 L431.29 347.72 L429.33 347.38 L427.35 347.05 L425.36 346.71 L423.36 346.37 L421.34 346.04 L419.31 345.70 L417.26 345.36 L415.21 345.03 L413.14 344.69 L411.05 344.35 L408.95 344.02 L406.84 343.68 L404.71 343.34 L402.58 343.01 L400.42 342.67 L398.25 342.33 L396.07 342.00 L393.88 341.66 L391.67 341.32 L389.45 340.99 L387.21 340.65 L384.96 340.31 L382.69 339.98 L380.41 339.64 L378.12 339.30 L375.81 338.97 L373.49 338.63 L371.15 338.29 L368.80 337.96 L366.43 337.62 L364.05 337.28 L361.66 336.95 L359.25 336.61 L356.83 336.27 L354.39 335.94 L353.05 335.75" class="ks"/>
<path d="M594.88 365.63 L594.65 365.57 L593.41 365.23 L592.16 364.89 L590.90 364.56 L589.62 364.22 L588.34 363.88 L587.04 363.55 L585.73 363.21 L584.41 362.87 L583.08 362.54 L581.74 362.20 L580.38 361.86 L579.02 361.53 L577.64 361.19 L576.25 360.85 L574.85 360.52 L573.43 360.18 L572.01 359.84 L570.57 359.51 L569.12 359.17 L567.66 358.83 L566.19 358.50 L564.70 358.16 L563.21 357.82 L561.70 357.49 L560.18 357.15 L558.65 356.81 L557.10 356.48 L555.55 356.14 L553.98 355.80 L552.40 355.47 L550.80 355.13 L549.20 354.79 L547.58 354.46 L545.95 354.12 L544.31 353.78 L542.65 353.45 L540.99 353.11 L539.31 352.77 L537.61 352.44 L535.91 352.10 L534.19 351.76 L532.46 351.43 L530.72 351.09 L528.97 350.75 L527.20 350.42 L525.42 350.08 L523.63 349.74 L521.82 349.41 L520.00 349.07 L518.17 348.73 L516.33 348.39 L514.47 348.06 L512.60 347.72 L510.72 347.38 L508.83 347.05 L506.92 346.71 L505.00 346.37 L503.06 346.04 L501.11 345.70 L499.15 345.36 L497.18 345.03 L495.19 344.69 L493.19 344.35 L491.18 344.02 L489.15 343.68 L487.11 343.34 L485.06 343.01 L482.99 342.67 L480.91 342.33 L478.81 342.00 L476.71 341.66 L474.59 341.32 L472.45 340.99 L470.30 340.65 L468.14 340.31 L465.96 339.98 L463.77 339.64 L461.57 339.30 L459.35 338.97 L457.12 338.63 L454.88 338.29 L452.62 337.96 L450.34 337.62 L448.06 337.28 L445.75 336.95 L443.44 336.61 L441.11 336.27 L438.76 335.94 L436.41 335.60 L434.03 335.26 L431.65 334.93 L429.25 334.59 L426.83 334.25 L424.40 333.92 L421.95 333.58 L419.50 333.24 L417.02 332.91 L414.53 332.57 L412.03 332.23 L409.51 331.90 L406.98 331.56 L404.43 331.22 L401.87 330.89 L399.29 330.55 L396.70 330.21 L394.09 329.88 L391.47 329.54 L388.83 329.20 L386.18 328.87 L383.51 328.53 L380.83 328.19 L378.13 327.86 L375.42 327.52 L372.69 327.18 L369.94 326.84 L367.18 326.51 L364.41 326.17 L361.62 325.83 L358.81 325.50 L355.99 325.16 L353.15 324.82 L353.05 324.81" class="kd"/>
<rect x="353.05" y="270.90" width="241.83" height="134.40" class="fr"/>
<path d="M353.05 405.30 h4.00 M594.88 405.30 h-4.00 M353.05 378.43 h4.00 M594.88 378.43 h-4.00 M353.05 351.56 h4.00 M594.88 351.56 h-4.00 M353.05 324.69 h4.00 M594.88 324.69 h-4.00 M353.05 297.82 h4.00 M594.88 297.82 h-4.00 M353.05 270.95 h4.00 M594.88 270.95 h-4.00 M353.05 405.30 v-4.00 M353.05 270.90 v4.00 M380.02 405.30 v-2.00 M380.02 270.90 v2.00 M395.80 405.30 v-2.00 M395.80 270.90 v2.00 M406.99 405.30 v-2.00 M406.99 270.90 v2.00 M415.68 405.30 v-2.00 M415.68 270.90 v2.00 M422.77 405.30 v-2.00 M422.77 270.90 v2.00 M428.77 405.30 v-2.00 M428.77 270.90 v2.00 M433.97 405.30 v-2.00 M433.97 270.90 v2.00 M438.55 405.30 v-2.00 M438.55 270.90 v2.00 M442.65 405.30 v-4.00 M442.65 270.90 v4.00 M469.62 405.30 v-2.00 M469.62 270.90 v2.00 M485.40 405.30 v-2.00 M485.40 270.90 v2.00 M496.59 405.30 v-2.00 M496.59 270.90 v2.00 M505.28 405.30 v-2.00 M505.28 270.90 v2.00 M512.37 405.30 v-2.00 M512.37 270.90 v2.00 M518.37 405.30 v-2.00 M518.37 270.90 v2.00 M523.57 405.30 v-2.00 M523.57 270.90 v2.00 M528.15 405.30 v-2.00 M528.15 270.90 v2.00 M532.25 405.30 v-4.00 M532.25 270.90 v4.00 M559.22 405.30 v-2.00 M559.22 270.90 v2.00 M575.00 405.30 v-2.00 M575.00 270.90 v2.00 M586.19 405.30 v-2.00 M586.19 270.90 v2.00 M594.88 405.30 v-2.00 M594.88 270.90 v2.00" class="tk"/>
<text x="341.30" y="410.20" text-anchor="end">0</text>
<text x="341.30" y="383.33" text-anchor="end">1</text>
<text x="341.30" y="356.46" text-anchor="end">2</text>
<text x="341.30" y="329.59" text-anchor="end">3</text>
<text x="341.30" y="302.72" text-anchor="end">4</text>
<text x="341.30" y="275.85" text-anchor="end">5</text>
<text x="354.65" y="430.50" text-anchor="middle">0.1</text>
<text x="444.25" y="430.50" text-anchor="middle">1</text>
<text x="533.85" y="430.50" text-anchor="middle">10</text>
<text x="474.10" y="453.20" text-anchor="middle">radius (AU)</text>
<text transform="translate(323.40,338.45) rotate(-90)" text-anchor="middle">height (z/H)</text>
<text x="439.60" y="251.30" text-anchor="middle">f<tspan dy="4.7" font-size="12.8" font-family="Liberation Serif,serif">Σ</tspan><tspan dy="-4.7">=10</tspan></text>
<text x="549.20" y="250.10" text-anchor="end">β=100</text>
<text x="549.20" y="265.10" text-anchor="end">1000</text>
<line x1="558.20" x2="598.70" y1="244.80" y2="244.80" class="lg1"/>
<line x1="558.20" x2="598.70" y1="260.50" y2="260.50" class="lg2"/>
</g>
</g>
</svg></body></html>
